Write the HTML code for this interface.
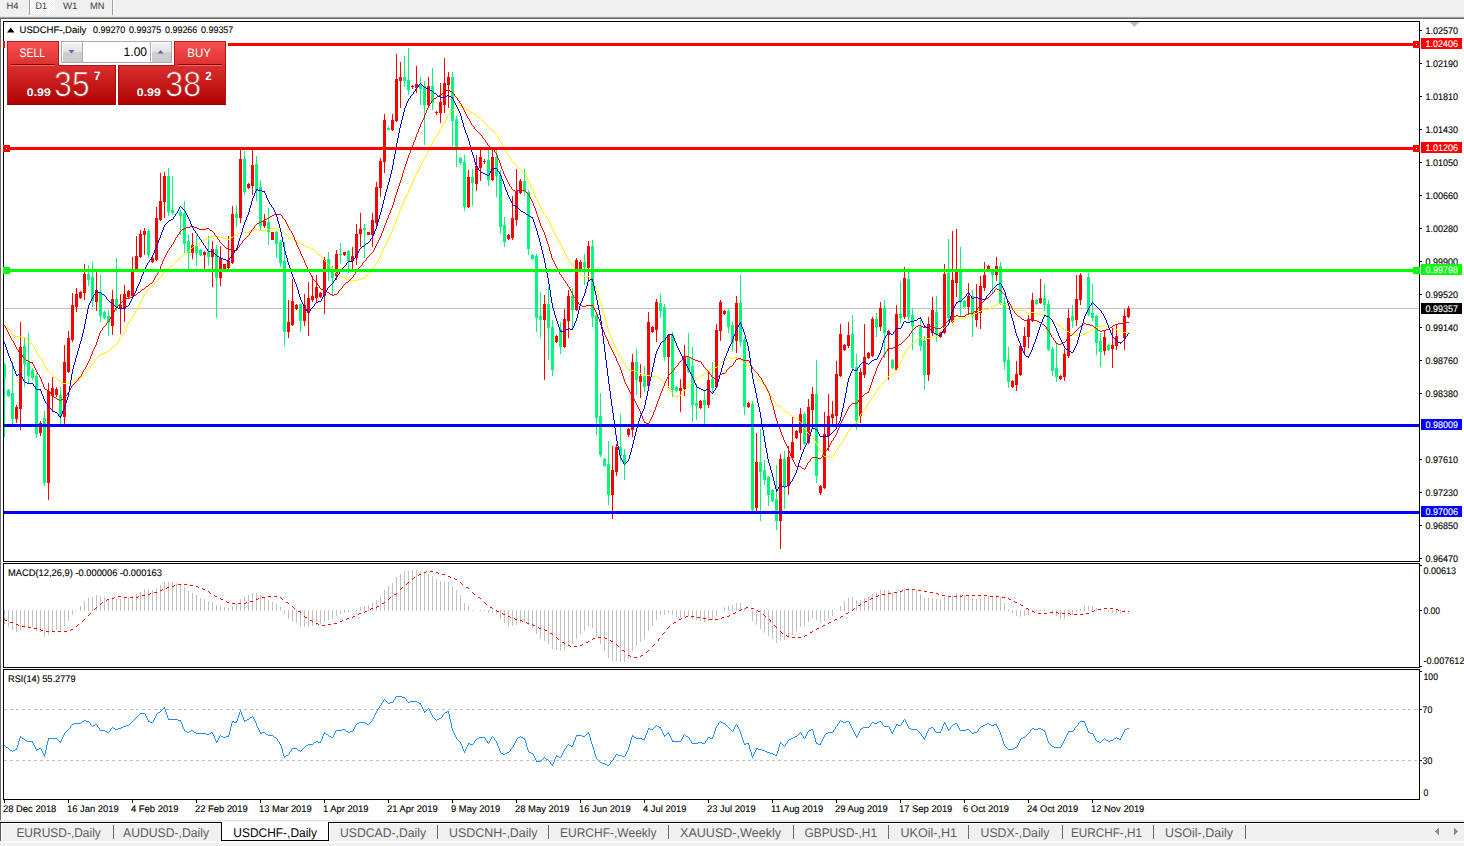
<!DOCTYPE html>
<html><head><meta charset="utf-8"><title>USDCHF-,Daily</title>
<style>html,body{margin:0;padding:0;background:#fff;width:1464px;height:846px;overflow:hidden}svg{display:block}</style>
</head><body>
<svg width="1464" height="846" viewBox="0 0 1464 846" font-family="'Liberation Sans', sans-serif" text-rendering="geometricPrecision"><rect x="0" y="0" width="1464" height="846" fill="#ffffff"/>
<rect x="0" y="0" width="1464" height="17" fill="#f0f0f0"/>
<rect x="0" y="16" width="1464" height="1" fill="#e6e6e6"/>
<rect x="0" y="17" width="1464" height="1" fill="#a0a0a0"/>
<rect x="0" y="18" width="1464" height="1" fill="#696969"/>
<rect x="0" y="19" width="1" height="801" fill="#6a6a6a"/>
<defs><pattern id="dith" width="2" height="2" patternUnits="userSpaceOnUse"><rect width="2" height="2" fill="#f0f0f0"/><rect width="1" height="1" fill="#fff"/><rect x="1" y="1" width="1" height="1" fill="#fff"/></pattern><linearGradient id="rg" x1="0" y1="0" x2="0" y2="1"><stop offset="0" stop-color="#fa5252"/><stop offset="0.45" stop-color="#d62828"/><stop offset="1" stop-color="#ae0000"/></linearGradient><linearGradient id="bg" x1="0" y1="0" x2="0" y2="1"><stop offset="0" stop-color="#f4f4f4"/><stop offset="0.5" stop-color="#e2e2e2"/><stop offset="0.5" stop-color="#d0d0d0"/><stop offset="1" stop-color="#cacaca"/></linearGradient><clipPath id="cm"><rect x="4" y="22" width="1415" height="539"/></clipPath><clipPath id="c2"><rect x="4" y="564" width="1415" height="103"/></clipPath><clipPath id="c3"><rect x="4" y="670" width="1415" height="129"/></clipPath><linearGradient id="rgu" gradientUnits="userSpaceOnUse" x1="0" y1="65" x2="0" y2="105"><stop offset="0" stop-color="#dc3030"/><stop offset="1" stop-color="#ae0000"/></linearGradient><linearGradient id="rg2" x1="0" y1="0" x2="0" y2="1"><stop offset="0" stop-color="#dc3030"/><stop offset="1" stop-color="#ae0000"/></linearGradient><linearGradient id="rg1" x1="0" y1="0" x2="0" y2="1"><stop offset="0" stop-color="#fa5252"/><stop offset="1" stop-color="#dc3030"/></linearGradient></defs>
<rect x="30" y="0" width="25" height="14" fill="url(#dith)"/>
<rect x="29" y="0" width="1" height="15" fill="#a0a0a0"/>
<rect x="112" y="0" width="1" height="15" fill="#a0a0a0"/>
<rect x="113" y="0" width="1" height="15" fill="#ffffff"/>
<text x="6.5" y="9" font-size="9.6" fill="#3c3c3c" textLength="12.00" lengthAdjust="spacingAndGlyphs" stroke="none" xml:space="preserve">H4</text>
<text x="35.5" y="9" font-size="9.6" fill="#3c3c3c" textLength="11.50" lengthAdjust="spacingAndGlyphs" stroke="none" xml:space="preserve">D1</text>
<text x="63" y="9" font-size="9.6" fill="#3c3c3c" textLength="14.50" lengthAdjust="spacingAndGlyphs" stroke="none" xml:space="preserve">W1</text>
<text x="90" y="9" font-size="9.6" fill="#3c3c3c" textLength="14.50" lengthAdjust="spacingAndGlyphs" stroke="none" xml:space="preserve">MN</text>
<rect x="1130" y="22" width="9" height="1" fill="#c0c0c0"/>
<rect x="1131" y="23" width="7" height="1" fill="#c0c0c0"/>
<rect x="1132" y="24" width="5" height="1" fill="#c0c0c0"/>
<rect x="1133" y="25" width="3" height="1" fill="#c0c0c0"/>
<rect x="1134" y="26" width="1" height="1" fill="#c0c0c0"/>
<rect x="3" y="21" width="1417" height="1" fill="#000"/>
<rect x="3" y="561" width="1417" height="1" fill="#000"/>
<rect x="3" y="21" width="1" height="541" fill="#000"/>
<rect x="1419" y="21" width="1" height="541" fill="#000"/>
<rect x="3" y="563" width="1417" height="1" fill="#000"/>
<rect x="3" y="667" width="1417" height="1" fill="#000"/>
<rect x="3" y="563" width="1" height="105" fill="#000"/>
<rect x="1419" y="563" width="1" height="105" fill="#000"/>
<rect x="3" y="669" width="1417" height="1" fill="#000"/>
<rect x="3" y="799" width="1417" height="1" fill="#000"/>
<rect x="3" y="669" width="1" height="131" fill="#000"/>
<rect x="1419" y="669" width="1" height="131" fill="#000"/>
<g clip-path="url(#cm)" shape-rendering="crispEdges">
<rect x="4" y="308" width="1415" height="1" fill="#c0c0c0"/>
<rect x="4" y="363" width="1" height="74" fill="#00f87c"/>
<rect x="3" y="364" width="3" height="14" fill="#00f87c"/>
<rect x="8" y="389" width="1" height="8" fill="#00f87c"/>
<rect x="7" y="390" width="3" height="6" fill="#00f87c"/>
<rect x="12" y="362" width="1" height="62" fill="#00f87c"/>
<rect x="11" y="393" width="3" height="26" fill="#00f87c"/>
<rect x="16" y="405" width="1" height="18" fill="#ff0000"/>
<rect x="15" y="407" width="3" height="12" fill="#ff0000"/>
<rect x="20" y="322" width="1" height="108" fill="#ff0000"/>
<rect x="19" y="347" width="3" height="62" fill="#ff0000"/>
<rect x="24" y="337" width="1" height="50" fill="#00f87c"/>
<rect x="23" y="346" width="3" height="18" fill="#00f87c"/>
<rect x="28" y="333" width="1" height="50" fill="#00f87c"/>
<rect x="27" y="362" width="3" height="14" fill="#00f87c"/>
<rect x="32" y="368" width="1" height="12" fill="#00f87c"/>
<rect x="31" y="370" width="3" height="8" fill="#00f87c"/>
<rect x="36" y="373" width="1" height="65" fill="#00f87c"/>
<rect x="35" y="376" width="3" height="58" fill="#00f87c"/>
<rect x="40" y="421" width="1" height="15" fill="#ff0000"/>
<rect x="39" y="423" width="3" height="10" fill="#ff0000"/>
<rect x="44" y="411" width="1" height="75" fill="#00f87c"/>
<rect x="43" y="418" width="3" height="65" fill="#00f87c"/>
<rect x="48" y="383" width="1" height="117" fill="#ff0000"/>
<rect x="47" y="391" width="3" height="92" fill="#ff0000"/>
<rect x="52" y="377" width="1" height="35" fill="#ff0000"/>
<rect x="51" y="388" width="3" height="8" fill="#ff0000"/>
<rect x="56" y="387" width="1" height="10" fill="#ff0000"/>
<rect x="55" y="389" width="3" height="6" fill="#ff0000"/>
<rect x="60" y="387" width="1" height="37" fill="#00f87c"/>
<rect x="59" y="395" width="3" height="22" fill="#00f87c"/>
<rect x="64" y="345" width="1" height="79" fill="#ff0000"/>
<rect x="63" y="362" width="3" height="55" fill="#ff0000"/>
<rect x="68" y="331" width="1" height="42" fill="#ff0000"/>
<rect x="67" y="338" width="3" height="34" fill="#ff0000"/>
<rect x="72" y="293" width="1" height="49" fill="#ff0000"/>
<rect x="71" y="305" width="3" height="35" fill="#ff0000"/>
<rect x="76" y="288" width="1" height="24" fill="#ff0000"/>
<rect x="75" y="294" width="3" height="13" fill="#ff0000"/>
<rect x="80" y="291" width="1" height="8" fill="#ff0000"/>
<rect x="79" y="292" width="3" height="6" fill="#ff0000"/>
<rect x="84" y="264" width="1" height="36" fill="#ff0000"/>
<rect x="83" y="274" width="3" height="19" fill="#ff0000"/>
<rect x="88" y="265" width="1" height="21" fill="#00f87c"/>
<rect x="87" y="274" width="3" height="6" fill="#00f87c"/>
<rect x="92" y="262" width="1" height="45" fill="#00f87c"/>
<rect x="91" y="277" width="3" height="24" fill="#00f87c"/>
<rect x="96" y="272" width="1" height="39" fill="#ff0000"/>
<rect x="95" y="290" width="3" height="12" fill="#ff0000"/>
<rect x="100" y="275" width="1" height="47" fill="#00f87c"/>
<rect x="99" y="292" width="3" height="24" fill="#00f87c"/>
<rect x="104" y="311" width="1" height="8" fill="#00f87c"/>
<rect x="103" y="312" width="3" height="6" fill="#00f87c"/>
<rect x="108" y="310" width="1" height="26" fill="#00f87c"/>
<rect x="107" y="316" width="3" height="7" fill="#00f87c"/>
<rect x="112" y="290" width="1" height="45" fill="#ff0000"/>
<rect x="111" y="299" width="3" height="27" fill="#ff0000"/>
<rect x="116" y="258" width="1" height="53" fill="#00f87c"/>
<rect x="115" y="299" width="3" height="8" fill="#00f87c"/>
<rect x="120" y="294" width="1" height="40" fill="#ff0000"/>
<rect x="119" y="305" width="3" height="4" fill="#ff0000"/>
<rect x="124" y="285" width="1" height="37" fill="#ff0000"/>
<rect x="123" y="294" width="3" height="15" fill="#ff0000"/>
<rect x="128" y="290" width="1" height="8" fill="#ff0000"/>
<rect x="127" y="291" width="3" height="6" fill="#ff0000"/>
<rect x="132" y="257" width="1" height="41" fill="#ff0000"/>
<rect x="131" y="271" width="3" height="25" fill="#ff0000"/>
<rect x="136" y="236" width="1" height="35" fill="#ff0000"/>
<rect x="135" y="256" width="3" height="14" fill="#ff0000"/>
<rect x="140" y="230" width="1" height="28" fill="#ff0000"/>
<rect x="139" y="234" width="3" height="23" fill="#ff0000"/>
<rect x="144" y="228" width="1" height="27" fill="#ff0000"/>
<rect x="143" y="231" width="3" height="4" fill="#ff0000"/>
<rect x="148" y="229" width="1" height="29" fill="#00f87c"/>
<rect x="147" y="231" width="3" height="24" fill="#00f87c"/>
<rect x="152" y="257" width="1" height="6" fill="#ff0000"/>
<rect x="151" y="258" width="3" height="4" fill="#ff0000"/>
<rect x="156" y="207" width="1" height="54" fill="#ff0000"/>
<rect x="155" y="218" width="3" height="42" fill="#ff0000"/>
<rect x="160" y="173" width="1" height="48" fill="#ff0000"/>
<rect x="159" y="201" width="3" height="19" fill="#ff0000"/>
<rect x="164" y="172" width="1" height="46" fill="#ff0000"/>
<rect x="163" y="176" width="3" height="26" fill="#ff0000"/>
<rect x="168" y="168" width="1" height="48" fill="#00f87c"/>
<rect x="167" y="176" width="3" height="36" fill="#00f87c"/>
<rect x="172" y="176" width="1" height="39" fill="#00f87c"/>
<rect x="171" y="210" width="3" height="3" fill="#00f87c"/>
<rect x="180" y="210" width="1" height="25" fill="#00f87c"/>
<rect x="179" y="212" width="3" height="4" fill="#00f87c"/>
<rect x="184" y="201" width="1" height="52" fill="#00f87c"/>
<rect x="183" y="213" width="3" height="31" fill="#00f87c"/>
<rect x="188" y="235" width="1" height="35" fill="#00f87c"/>
<rect x="187" y="241" width="3" height="12" fill="#00f87c"/>
<rect x="192" y="233" width="1" height="26" fill="#ff0000"/>
<rect x="191" y="245" width="3" height="8" fill="#ff0000"/>
<rect x="196" y="235" width="1" height="31" fill="#00f87c"/>
<rect x="195" y="246" width="3" height="7" fill="#00f87c"/>
<rect x="200" y="249" width="1" height="7" fill="#00f87c"/>
<rect x="199" y="250" width="3" height="5" fill="#00f87c"/>
<rect x="204" y="251" width="1" height="19" fill="#ff0000"/>
<rect x="203" y="252" width="3" height="3" fill="#ff0000"/>
<rect x="208" y="236" width="1" height="30" fill="#00f87c"/>
<rect x="207" y="252" width="3" height="5" fill="#00f87c"/>
<rect x="212" y="241" width="1" height="46" fill="#ff0000"/>
<rect x="211" y="249" width="3" height="8" fill="#ff0000"/>
<rect x="216" y="245" width="1" height="73" fill="#00f87c"/>
<rect x="215" y="249" width="3" height="29" fill="#00f87c"/>
<rect x="220" y="246" width="1" height="40" fill="#ff0000"/>
<rect x="219" y="258" width="3" height="20" fill="#ff0000"/>
<rect x="224" y="264" width="1" height="5" fill="#ff0000"/>
<rect x="223" y="264" width="3" height="5" fill="#ff0000"/>
<rect x="228" y="236" width="1" height="33" fill="#ff0000"/>
<rect x="227" y="261" width="3" height="7" fill="#ff0000"/>
<rect x="232" y="206" width="1" height="58" fill="#ff0000"/>
<rect x="231" y="214" width="3" height="49" fill="#ff0000"/>
<rect x="236" y="205" width="1" height="22" fill="#00f87c"/>
<rect x="235" y="214" width="3" height="4" fill="#00f87c"/>
<rect x="240" y="148" width="1" height="75" fill="#ff0000"/>
<rect x="239" y="159" width="3" height="59" fill="#ff0000"/>
<rect x="244" y="151" width="1" height="44" fill="#00f87c"/>
<rect x="243" y="159" width="3" height="33" fill="#00f87c"/>
<rect x="248" y="183" width="1" height="6" fill="#ff0000"/>
<rect x="247" y="184" width="3" height="4" fill="#ff0000"/>
<rect x="252" y="149" width="1" height="46" fill="#ff0000"/>
<rect x="251" y="165" width="3" height="21" fill="#ff0000"/>
<rect x="256" y="156" width="1" height="45" fill="#00f87c"/>
<rect x="255" y="164" width="3" height="27" fill="#00f87c"/>
<rect x="260" y="180" width="1" height="51" fill="#00f87c"/>
<rect x="259" y="187" width="3" height="39" fill="#00f87c"/>
<rect x="264" y="214" width="1" height="14" fill="#ff0000"/>
<rect x="263" y="221" width="3" height="5" fill="#ff0000"/>
<rect x="268" y="208" width="1" height="37" fill="#00f87c"/>
<rect x="267" y="222" width="3" height="10" fill="#00f87c"/>
<rect x="272" y="232" width="1" height="8" fill="#ff0000"/>
<rect x="271" y="232" width="3" height="8" fill="#ff0000"/>
<rect x="276" y="231" width="1" height="27" fill="#00f87c"/>
<rect x="275" y="232" width="3" height="12" fill="#00f87c"/>
<rect x="280" y="240" width="1" height="27" fill="#00f87c"/>
<rect x="279" y="242" width="3" height="21" fill="#00f87c"/>
<rect x="284" y="242" width="1" height="104" fill="#00f87c"/>
<rect x="283" y="261" width="3" height="71" fill="#00f87c"/>
<rect x="288" y="300" width="1" height="38" fill="#ff0000"/>
<rect x="287" y="322" width="3" height="10" fill="#ff0000"/>
<rect x="292" y="279" width="1" height="47" fill="#ff0000"/>
<rect x="291" y="301" width="3" height="24" fill="#ff0000"/>
<rect x="296" y="304" width="1" height="6" fill="#ff0000"/>
<rect x="295" y="305" width="3" height="4" fill="#ff0000"/>
<rect x="300" y="303" width="1" height="29" fill="#00f87c"/>
<rect x="299" y="304" width="3" height="17" fill="#00f87c"/>
<rect x="304" y="294" width="1" height="32" fill="#ff0000"/>
<rect x="303" y="305" width="3" height="16" fill="#ff0000"/>
<rect x="308" y="282" width="1" height="54" fill="#ff0000"/>
<rect x="307" y="298" width="3" height="15" fill="#ff0000"/>
<rect x="312" y="276" width="1" height="26" fill="#ff0000"/>
<rect x="311" y="296" width="3" height="4" fill="#ff0000"/>
<rect x="316" y="275" width="1" height="27" fill="#ff0000"/>
<rect x="315" y="287" width="3" height="11" fill="#ff0000"/>
<rect x="320" y="292" width="1" height="6" fill="#ff0000"/>
<rect x="319" y="293" width="3" height="4" fill="#ff0000"/>
<rect x="324" y="257" width="1" height="57" fill="#ff0000"/>
<rect x="323" y="260" width="3" height="36" fill="#ff0000"/>
<rect x="328" y="252" width="1" height="29" fill="#00f87c"/>
<rect x="327" y="259" width="3" height="13" fill="#00f87c"/>
<rect x="332" y="266" width="1" height="29" fill="#00f87c"/>
<rect x="331" y="271" width="3" height="7" fill="#00f87c"/>
<rect x="336" y="250" width="1" height="30" fill="#ff0000"/>
<rect x="335" y="254" width="3" height="22" fill="#ff0000"/>
<rect x="340" y="243" width="1" height="20" fill="#00f87c"/>
<rect x="339" y="254" width="3" height="1" fill="#00f87c"/>
<rect x="344" y="252" width="1" height="4" fill="#ff0000"/>
<rect x="343" y="252" width="3" height="3" fill="#ff0000"/>
<rect x="348" y="250" width="1" height="23" fill="#00f87c"/>
<rect x="347" y="251" width="3" height="10" fill="#00f87c"/>
<rect x="352" y="247" width="1" height="22" fill="#ff0000"/>
<rect x="351" y="256" width="3" height="5" fill="#ff0000"/>
<rect x="356" y="224" width="1" height="41" fill="#ff0000"/>
<rect x="355" y="234" width="3" height="24" fill="#ff0000"/>
<rect x="360" y="213" width="1" height="34" fill="#ff0000"/>
<rect x="359" y="229" width="3" height="5" fill="#ff0000"/>
<rect x="364" y="224" width="1" height="34" fill="#00f87c"/>
<rect x="363" y="228" width="3" height="2" fill="#00f87c"/>
<rect x="368" y="232" width="1" height="3" fill="#ff0000"/>
<rect x="367" y="232" width="3" height="3" fill="#ff0000"/>
<rect x="372" y="213" width="1" height="34" fill="#ff0000"/>
<rect x="371" y="220" width="3" height="15" fill="#ff0000"/>
<rect x="376" y="182" width="1" height="44" fill="#ff0000"/>
<rect x="375" y="187" width="3" height="36" fill="#ff0000"/>
<rect x="380" y="158" width="1" height="39" fill="#ff0000"/>
<rect x="379" y="161" width="3" height="27" fill="#ff0000"/>
<rect x="384" y="114" width="1" height="59" fill="#ff0000"/>
<rect x="383" y="120" width="3" height="42" fill="#ff0000"/>
<rect x="388" y="126" width="1" height="4" fill="#00f87c"/>
<rect x="387" y="128" width="3" height="2" fill="#00f87c"/>
<rect x="392" y="114" width="1" height="17" fill="#ff0000"/>
<rect x="391" y="120" width="3" height="10" fill="#ff0000"/>
<rect x="396" y="54" width="1" height="68" fill="#ff0000"/>
<rect x="395" y="79" width="3" height="42" fill="#ff0000"/>
<rect x="400" y="62" width="1" height="46" fill="#ff0000"/>
<rect x="399" y="77" width="3" height="4" fill="#ff0000"/>
<rect x="404" y="56" width="1" height="31" fill="#00f87c"/>
<rect x="403" y="77" width="3" height="4" fill="#00f87c"/>
<rect x="408" y="48" width="1" height="47" fill="#00f87c"/>
<rect x="407" y="80" width="3" height="10" fill="#00f87c"/>
<rect x="412" y="85" width="1" height="4" fill="#ff0000"/>
<rect x="411" y="86" width="3" height="1" fill="#ff0000"/>
<rect x="416" y="66" width="1" height="27" fill="#ff0000"/>
<rect x="415" y="84" width="3" height="4" fill="#ff0000"/>
<rect x="420" y="77" width="1" height="28" fill="#00f87c"/>
<rect x="419" y="84" width="3" height="5" fill="#00f87c"/>
<rect x="424" y="81" width="1" height="64" fill="#00f87c"/>
<rect x="423" y="86" width="3" height="19" fill="#00f87c"/>
<rect x="428" y="77" width="1" height="29" fill="#ff0000"/>
<rect x="427" y="86" width="3" height="19" fill="#ff0000"/>
<rect x="432" y="68" width="1" height="42" fill="#00f87c"/>
<rect x="431" y="86" width="3" height="17" fill="#00f87c"/>
<rect x="436" y="111" width="1" height="4" fill="#ff0000"/>
<rect x="435" y="112" width="3" height="1" fill="#ff0000"/>
<rect x="440" y="83" width="1" height="40" fill="#ff0000"/>
<rect x="439" y="102" width="3" height="11" fill="#ff0000"/>
<rect x="444" y="58" width="1" height="55" fill="#ff0000"/>
<rect x="443" y="83" width="3" height="22" fill="#ff0000"/>
<rect x="448" y="72" width="1" height="36" fill="#ff0000"/>
<rect x="447" y="77" width="3" height="8" fill="#ff0000"/>
<rect x="452" y="72" width="1" height="75" fill="#00f87c"/>
<rect x="451" y="77" width="3" height="44" fill="#00f87c"/>
<rect x="456" y="116" width="1" height="51" fill="#00f87c"/>
<rect x="455" y="119" width="3" height="28" fill="#00f87c"/>
<rect x="460" y="157" width="1" height="8" fill="#00f87c"/>
<rect x="459" y="158" width="3" height="5" fill="#00f87c"/>
<rect x="464" y="155" width="1" height="56" fill="#00f87c"/>
<rect x="463" y="162" width="3" height="45" fill="#00f87c"/>
<rect x="468" y="170" width="1" height="38" fill="#ff0000"/>
<rect x="467" y="177" width="3" height="30" fill="#ff0000"/>
<rect x="472" y="169" width="1" height="37" fill="#00f87c"/>
<rect x="471" y="177" width="3" height="6" fill="#00f87c"/>
<rect x="476" y="155" width="1" height="36" fill="#ff0000"/>
<rect x="475" y="166" width="3" height="18" fill="#ff0000"/>
<rect x="480" y="149" width="1" height="32" fill="#ff0000"/>
<rect x="479" y="157" width="3" height="11" fill="#ff0000"/>
<rect x="484" y="159" width="1" height="5" fill="#ff0000"/>
<rect x="483" y="161" width="3" height="1" fill="#ff0000"/>
<rect x="488" y="147" width="1" height="39" fill="#00f87c"/>
<rect x="487" y="160" width="3" height="20" fill="#00f87c"/>
<rect x="492" y="147" width="1" height="34" fill="#ff0000"/>
<rect x="491" y="157" width="3" height="23" fill="#ff0000"/>
<rect x="496" y="150" width="1" height="47" fill="#00f87c"/>
<rect x="495" y="157" width="3" height="19" fill="#00f87c"/>
<rect x="500" y="170" width="1" height="64" fill="#00f87c"/>
<rect x="499" y="175" width="3" height="52" fill="#00f87c"/>
<rect x="504" y="217" width="1" height="30" fill="#00f87c"/>
<rect x="503" y="225" width="3" height="17" fill="#00f87c"/>
<rect x="508" y="234" width="1" height="6" fill="#ff0000"/>
<rect x="507" y="235" width="3" height="4" fill="#ff0000"/>
<rect x="512" y="196" width="1" height="44" fill="#ff0000"/>
<rect x="511" y="218" width="3" height="20" fill="#ff0000"/>
<rect x="516" y="169" width="1" height="57" fill="#ff0000"/>
<rect x="515" y="191" width="3" height="29" fill="#ff0000"/>
<rect x="520" y="179" width="1" height="15" fill="#ff0000"/>
<rect x="519" y="181" width="3" height="12" fill="#ff0000"/>
<rect x="524" y="169" width="1" height="27" fill="#00f87c"/>
<rect x="523" y="181" width="3" height="10" fill="#00f87c"/>
<rect x="528" y="190" width="1" height="65" fill="#00f87c"/>
<rect x="527" y="192" width="3" height="57" fill="#00f87c"/>
<rect x="532" y="254" width="1" height="6" fill="#00f87c"/>
<rect x="531" y="255" width="3" height="4" fill="#00f87c"/>
<rect x="536" y="254" width="1" height="78" fill="#00f87c"/>
<rect x="535" y="256" width="3" height="62" fill="#00f87c"/>
<rect x="540" y="292" width="1" height="46" fill="#00f87c"/>
<rect x="539" y="316" width="3" height="4" fill="#00f87c"/>
<rect x="544" y="295" width="1" height="85" fill="#ff0000"/>
<rect x="543" y="304" width="3" height="16" fill="#ff0000"/>
<rect x="548" y="287" width="1" height="73" fill="#00f87c"/>
<rect x="547" y="304" width="3" height="24" fill="#00f87c"/>
<rect x="552" y="320" width="1" height="56" fill="#00f87c"/>
<rect x="551" y="327" width="3" height="43" fill="#00f87c"/>
<rect x="556" y="335" width="1" height="8" fill="#ff0000"/>
<rect x="555" y="336" width="3" height="6" fill="#ff0000"/>
<rect x="560" y="322" width="1" height="32" fill="#00f87c"/>
<rect x="559" y="329" width="3" height="18" fill="#00f87c"/>
<rect x="564" y="309" width="1" height="39" fill="#ff0000"/>
<rect x="563" y="319" width="3" height="28" fill="#ff0000"/>
<rect x="568" y="290" width="1" height="48" fill="#ff0000"/>
<rect x="567" y="296" width="3" height="25" fill="#ff0000"/>
<rect x="572" y="288" width="1" height="40" fill="#00f87c"/>
<rect x="571" y="296" width="3" height="14" fill="#00f87c"/>
<rect x="576" y="258" width="1" height="53" fill="#ff0000"/>
<rect x="575" y="260" width="3" height="50" fill="#ff0000"/>
<rect x="580" y="260" width="1" height="11" fill="#ff0000"/>
<rect x="579" y="262" width="3" height="8" fill="#ff0000"/>
<rect x="584" y="254" width="1" height="31" fill="#00f87c"/>
<rect x="583" y="262" width="3" height="5" fill="#00f87c"/>
<rect x="588" y="241" width="1" height="39" fill="#ff0000"/>
<rect x="587" y="246" width="3" height="22" fill="#ff0000"/>
<rect x="592" y="240" width="1" height="87" fill="#00f87c"/>
<rect x="591" y="246" width="3" height="71" fill="#00f87c"/>
<rect x="596" y="312" width="1" height="123" fill="#00f87c"/>
<rect x="595" y="315" width="3" height="103" fill="#00f87c"/>
<rect x="600" y="393" width="1" height="64" fill="#00f87c"/>
<rect x="599" y="416" width="3" height="39" fill="#00f87c"/>
<rect x="604" y="458" width="1" height="9" fill="#00f87c"/>
<rect x="603" y="459" width="3" height="7" fill="#00f87c"/>
<rect x="608" y="441" width="1" height="64" fill="#00f87c"/>
<rect x="607" y="464" width="3" height="31" fill="#00f87c"/>
<rect x="612" y="446" width="1" height="73" fill="#ff0000"/>
<rect x="611" y="470" width="3" height="25" fill="#ff0000"/>
<rect x="616" y="444" width="1" height="32" fill="#ff0000"/>
<rect x="615" y="447" width="3" height="25" fill="#ff0000"/>
<rect x="620" y="414" width="1" height="47" fill="#00f87c"/>
<rect x="619" y="447" width="3" height="9" fill="#00f87c"/>
<rect x="624" y="449" width="1" height="31" fill="#00f87c"/>
<rect x="623" y="455" width="3" height="8" fill="#00f87c"/>
<rect x="628" y="428" width="1" height="9" fill="#ff0000"/>
<rect x="627" y="429" width="3" height="6" fill="#ff0000"/>
<rect x="632" y="354" width="1" height="83" fill="#ff0000"/>
<rect x="631" y="362" width="3" height="68" fill="#ff0000"/>
<rect x="636" y="349" width="1" height="46" fill="#00f87c"/>
<rect x="635" y="362" width="3" height="18" fill="#00f87c"/>
<rect x="640" y="364" width="1" height="34" fill="#ff0000"/>
<rect x="639" y="376" width="3" height="6" fill="#ff0000"/>
<rect x="644" y="366" width="1" height="26" fill="#00f87c"/>
<rect x="643" y="375" width="3" height="12" fill="#00f87c"/>
<rect x="648" y="312" width="1" height="76" fill="#ff0000"/>
<rect x="647" y="322" width="3" height="64" fill="#ff0000"/>
<rect x="652" y="326" width="1" height="7" fill="#ff0000"/>
<rect x="651" y="327" width="3" height="5" fill="#ff0000"/>
<rect x="656" y="299" width="1" height="43" fill="#ff0000"/>
<rect x="655" y="302" width="3" height="28" fill="#ff0000"/>
<rect x="660" y="294" width="1" height="24" fill="#00f87c"/>
<rect x="659" y="303" width="3" height="8" fill="#00f87c"/>
<rect x="664" y="304" width="1" height="57" fill="#00f87c"/>
<rect x="663" y="307" width="3" height="50" fill="#00f87c"/>
<rect x="668" y="334" width="1" height="54" fill="#ff0000"/>
<rect x="667" y="335" width="3" height="22" fill="#ff0000"/>
<rect x="672" y="332" width="1" height="65" fill="#00f87c"/>
<rect x="671" y="335" width="3" height="55" fill="#00f87c"/>
<rect x="676" y="386" width="1" height="6" fill="#00f87c"/>
<rect x="675" y="387" width="3" height="4" fill="#00f87c"/>
<rect x="680" y="379" width="1" height="33" fill="#ff0000"/>
<rect x="679" y="388" width="3" height="3" fill="#ff0000"/>
<rect x="684" y="345" width="1" height="51" fill="#ff0000"/>
<rect x="683" y="356" width="3" height="33" fill="#ff0000"/>
<rect x="688" y="333" width="1" height="40" fill="#00f87c"/>
<rect x="687" y="357" width="3" height="15" fill="#00f87c"/>
<rect x="692" y="347" width="1" height="75" fill="#00f87c"/>
<rect x="691" y="366" width="3" height="39" fill="#00f87c"/>
<rect x="696" y="384" width="1" height="36" fill="#00f87c"/>
<rect x="695" y="403" width="3" height="3" fill="#00f87c"/>
<rect x="700" y="400" width="1" height="9" fill="#ff0000"/>
<rect x="699" y="401" width="3" height="7" fill="#ff0000"/>
<rect x="704" y="391" width="1" height="33" fill="#00f87c"/>
<rect x="703" y="400" width="3" height="5" fill="#00f87c"/>
<rect x="708" y="372" width="1" height="36" fill="#ff0000"/>
<rect x="707" y="380" width="3" height="25" fill="#ff0000"/>
<rect x="712" y="362" width="1" height="31" fill="#00f87c"/>
<rect x="711" y="379" width="3" height="9" fill="#00f87c"/>
<rect x="716" y="324" width="1" height="64" fill="#ff0000"/>
<rect x="715" y="330" width="3" height="57" fill="#ff0000"/>
<rect x="720" y="300" width="1" height="41" fill="#ff0000"/>
<rect x="719" y="302" width="3" height="29" fill="#ff0000"/>
<rect x="724" y="310" width="1" height="5" fill="#ff0000"/>
<rect x="723" y="311" width="3" height="3" fill="#ff0000"/>
<rect x="728" y="309" width="1" height="24" fill="#00f87c"/>
<rect x="727" y="311" width="3" height="16" fill="#00f87c"/>
<rect x="732" y="321" width="1" height="30" fill="#00f87c"/>
<rect x="731" y="325" width="3" height="18" fill="#00f87c"/>
<rect x="736" y="296" width="1" height="57" fill="#ff0000"/>
<rect x="735" y="303" width="3" height="38" fill="#ff0000"/>
<rect x="740" y="275" width="1" height="72" fill="#00f87c"/>
<rect x="739" y="303" width="3" height="39" fill="#00f87c"/>
<rect x="744" y="337" width="1" height="78" fill="#00f87c"/>
<rect x="743" y="340" width="3" height="67" fill="#00f87c"/>
<rect x="748" y="402" width="1" height="6" fill="#ff0000"/>
<rect x="747" y="403" width="3" height="4" fill="#ff0000"/>
<rect x="752" y="401" width="1" height="110" fill="#00f87c"/>
<rect x="751" y="404" width="3" height="106" fill="#00f87c"/>
<rect x="756" y="433" width="1" height="78" fill="#ff0000"/>
<rect x="755" y="462" width="3" height="46" fill="#ff0000"/>
<rect x="760" y="429" width="1" height="92" fill="#00f87c"/>
<rect x="759" y="462" width="3" height="10" fill="#00f87c"/>
<rect x="764" y="460" width="1" height="25" fill="#00f87c"/>
<rect x="763" y="470" width="3" height="10" fill="#00f87c"/>
<rect x="768" y="476" width="1" height="30" fill="#00f87c"/>
<rect x="767" y="477" width="3" height="18" fill="#00f87c"/>
<rect x="772" y="489" width="1" height="13" fill="#00f87c"/>
<rect x="771" y="490" width="3" height="11" fill="#00f87c"/>
<rect x="776" y="465" width="1" height="65" fill="#00f87c"/>
<rect x="775" y="499" width="3" height="22" fill="#00f87c"/>
<rect x="780" y="454" width="1" height="95" fill="#ff0000"/>
<rect x="779" y="459" width="3" height="62" fill="#ff0000"/>
<rect x="784" y="451" width="1" height="58" fill="#00f87c"/>
<rect x="783" y="459" width="3" height="27" fill="#00f87c"/>
<rect x="788" y="446" width="1" height="49" fill="#ff0000"/>
<rect x="787" y="457" width="3" height="29" fill="#ff0000"/>
<rect x="792" y="417" width="1" height="42" fill="#ff0000"/>
<rect x="791" y="442" width="3" height="16" fill="#ff0000"/>
<rect x="796" y="430" width="1" height="9" fill="#ff0000"/>
<rect x="795" y="431" width="3" height="7" fill="#ff0000"/>
<rect x="800" y="408" width="1" height="42" fill="#ff0000"/>
<rect x="799" y="414" width="3" height="19" fill="#ff0000"/>
<rect x="804" y="412" width="1" height="33" fill="#00f87c"/>
<rect x="803" y="414" width="3" height="30" fill="#00f87c"/>
<rect x="808" y="399" width="1" height="45" fill="#ff0000"/>
<rect x="807" y="407" width="3" height="36" fill="#ff0000"/>
<rect x="812" y="387" width="1" height="39" fill="#ff0000"/>
<rect x="811" y="394" width="3" height="16" fill="#ff0000"/>
<rect x="816" y="360" width="1" height="123" fill="#00f87c"/>
<rect x="815" y="394" width="3" height="82" fill="#00f87c"/>
<rect x="820" y="485" width="1" height="10" fill="#ff0000"/>
<rect x="819" y="486" width="3" height="7" fill="#ff0000"/>
<rect x="824" y="412" width="1" height="77" fill="#ff0000"/>
<rect x="823" y="434" width="3" height="54" fill="#ff0000"/>
<rect x="828" y="394" width="1" height="57" fill="#ff0000"/>
<rect x="827" y="416" width="3" height="20" fill="#ff0000"/>
<rect x="832" y="401" width="1" height="25" fill="#ff0000"/>
<rect x="831" y="414" width="3" height="4" fill="#ff0000"/>
<rect x="836" y="361" width="1" height="65" fill="#ff0000"/>
<rect x="835" y="374" width="3" height="42" fill="#ff0000"/>
<rect x="840" y="324" width="1" height="53" fill="#ff0000"/>
<rect x="839" y="334" width="3" height="42" fill="#ff0000"/>
<rect x="844" y="344" width="1" height="7" fill="#ff0000"/>
<rect x="843" y="345" width="3" height="5" fill="#ff0000"/>
<rect x="848" y="322" width="1" height="26" fill="#ff0000"/>
<rect x="847" y="335" width="3" height="11" fill="#ff0000"/>
<rect x="852" y="315" width="1" height="56" fill="#00f87c"/>
<rect x="851" y="334" width="3" height="34" fill="#00f87c"/>
<rect x="856" y="354" width="1" height="76" fill="#00f87c"/>
<rect x="855" y="367" width="3" height="54" fill="#00f87c"/>
<rect x="860" y="368" width="1" height="55" fill="#ff0000"/>
<rect x="859" y="372" width="3" height="44" fill="#ff0000"/>
<rect x="864" y="324" width="1" height="54" fill="#ff0000"/>
<rect x="863" y="357" width="3" height="18" fill="#ff0000"/>
<rect x="868" y="352" width="1" height="7" fill="#ff0000"/>
<rect x="867" y="353" width="3" height="5" fill="#ff0000"/>
<rect x="872" y="317" width="1" height="40" fill="#ff0000"/>
<rect x="871" y="319" width="3" height="37" fill="#ff0000"/>
<rect x="876" y="313" width="1" height="24" fill="#00f87c"/>
<rect x="875" y="319" width="3" height="8" fill="#00f87c"/>
<rect x="880" y="302" width="1" height="29" fill="#ff0000"/>
<rect x="879" y="308" width="3" height="19" fill="#ff0000"/>
<rect x="884" y="300" width="1" height="58" fill="#00f87c"/>
<rect x="883" y="308" width="3" height="25" fill="#00f87c"/>
<rect x="888" y="330" width="1" height="50" fill="#ff0000"/>
<rect x="887" y="331" width="3" height="4" fill="#ff0000"/>
<rect x="892" y="359" width="1" height="10" fill="#00f87c"/>
<rect x="891" y="360" width="3" height="8" fill="#00f87c"/>
<rect x="896" y="305" width="1" height="66" fill="#ff0000"/>
<rect x="895" y="314" width="3" height="56" fill="#ff0000"/>
<rect x="900" y="281" width="1" height="42" fill="#00f87c"/>
<rect x="899" y="314" width="3" height="4" fill="#00f87c"/>
<rect x="904" y="267" width="1" height="52" fill="#ff0000"/>
<rect x="903" y="278" width="3" height="39" fill="#ff0000"/>
<rect x="908" y="268" width="1" height="53" fill="#00f87c"/>
<rect x="907" y="279" width="3" height="38" fill="#00f87c"/>
<rect x="912" y="309" width="1" height="41" fill="#00f87c"/>
<rect x="911" y="315" width="3" height="11" fill="#00f87c"/>
<rect x="920" y="320" width="1" height="31" fill="#00f87c"/>
<rect x="919" y="327" width="3" height="19" fill="#00f87c"/>
<rect x="924" y="336" width="1" height="54" fill="#00f87c"/>
<rect x="923" y="341" width="3" height="34" fill="#00f87c"/>
<rect x="928" y="317" width="1" height="64" fill="#ff0000"/>
<rect x="927" y="324" width="3" height="51" fill="#ff0000"/>
<rect x="932" y="297" width="1" height="39" fill="#ff0000"/>
<rect x="931" y="310" width="3" height="23" fill="#ff0000"/>
<rect x="936" y="296" width="1" height="46" fill="#00f87c"/>
<rect x="935" y="312" width="3" height="23" fill="#00f87c"/>
<rect x="940" y="331" width="1" height="7" fill="#ff0000"/>
<rect x="939" y="332" width="3" height="5" fill="#ff0000"/>
<rect x="944" y="264" width="1" height="70" fill="#ff0000"/>
<rect x="943" y="274" width="3" height="59" fill="#ff0000"/>
<rect x="948" y="239" width="1" height="83" fill="#00f87c"/>
<rect x="947" y="273" width="3" height="45" fill="#00f87c"/>
<rect x="952" y="231" width="1" height="92" fill="#ff0000"/>
<rect x="951" y="280" width="3" height="42" fill="#ff0000"/>
<rect x="956" y="229" width="1" height="68" fill="#ff0000"/>
<rect x="955" y="270" width="3" height="13" fill="#ff0000"/>
<rect x="960" y="247" width="1" height="69" fill="#00f87c"/>
<rect x="959" y="271" width="3" height="31" fill="#00f87c"/>
<rect x="964" y="300" width="1" height="8" fill="#00f87c"/>
<rect x="963" y="301" width="3" height="6" fill="#00f87c"/>
<rect x="968" y="283" width="1" height="32" fill="#ff0000"/>
<rect x="967" y="296" width="3" height="11" fill="#ff0000"/>
<rect x="972" y="290" width="1" height="47" fill="#00f87c"/>
<rect x="971" y="296" width="3" height="20" fill="#00f87c"/>
<rect x="976" y="284" width="1" height="43" fill="#ff0000"/>
<rect x="975" y="311" width="3" height="9" fill="#ff0000"/>
<rect x="980" y="276" width="1" height="53" fill="#ff0000"/>
<rect x="979" y="286" width="3" height="27" fill="#ff0000"/>
<rect x="984" y="262" width="1" height="29" fill="#ff0000"/>
<rect x="983" y="275" width="3" height="13" fill="#ff0000"/>
<rect x="988" y="265" width="1" height="6" fill="#ff0000"/>
<rect x="987" y="266" width="3" height="4" fill="#ff0000"/>
<rect x="992" y="269" width="1" height="24" fill="#00f87c"/>
<rect x="991" y="271" width="3" height="4" fill="#00f87c"/>
<rect x="996" y="257" width="1" height="24" fill="#ff0000"/>
<rect x="995" y="266" width="3" height="9" fill="#ff0000"/>
<rect x="1000" y="262" width="1" height="43" fill="#00f87c"/>
<rect x="999" y="266" width="3" height="37" fill="#00f87c"/>
<rect x="1004" y="297" width="1" height="73" fill="#00f87c"/>
<rect x="1003" y="303" width="3" height="59" fill="#00f87c"/>
<rect x="1008" y="347" width="1" height="41" fill="#00f87c"/>
<rect x="1007" y="360" width="3" height="22" fill="#00f87c"/>
<rect x="1012" y="380" width="1" height="8" fill="#ff0000"/>
<rect x="1011" y="381" width="3" height="6" fill="#ff0000"/>
<rect x="1016" y="361" width="1" height="30" fill="#ff0000"/>
<rect x="1015" y="374" width="3" height="11" fill="#ff0000"/>
<rect x="1020" y="344" width="1" height="32" fill="#ff0000"/>
<rect x="1019" y="346" width="3" height="29" fill="#ff0000"/>
<rect x="1024" y="327" width="1" height="26" fill="#ff0000"/>
<rect x="1023" y="336" width="3" height="11" fill="#ff0000"/>
<rect x="1028" y="315" width="1" height="33" fill="#ff0000"/>
<rect x="1027" y="319" width="3" height="18" fill="#ff0000"/>
<rect x="1032" y="293" width="1" height="29" fill="#ff0000"/>
<rect x="1031" y="300" width="3" height="21" fill="#ff0000"/>
<rect x="1036" y="299" width="1" height="6" fill="#00f87c"/>
<rect x="1035" y="300" width="3" height="4" fill="#00f87c"/>
<rect x="1040" y="279" width="1" height="25" fill="#ff0000"/>
<rect x="1039" y="298" width="3" height="5" fill="#ff0000"/>
<rect x="1044" y="284" width="1" height="27" fill="#00f87c"/>
<rect x="1043" y="298" width="3" height="7" fill="#00f87c"/>
<rect x="1048" y="300" width="1" height="51" fill="#00f87c"/>
<rect x="1047" y="304" width="3" height="46" fill="#00f87c"/>
<rect x="1052" y="347" width="1" height="29" fill="#00f87c"/>
<rect x="1051" y="349" width="3" height="22" fill="#00f87c"/>
<rect x="1056" y="342" width="1" height="40" fill="#00f87c"/>
<rect x="1055" y="368" width="3" height="9" fill="#00f87c"/>
<rect x="1060" y="375" width="1" height="5" fill="#ff0000"/>
<rect x="1059" y="376" width="3" height="3" fill="#ff0000"/>
<rect x="1064" y="349" width="1" height="32" fill="#ff0000"/>
<rect x="1063" y="354" width="3" height="23" fill="#ff0000"/>
<rect x="1068" y="309" width="1" height="49" fill="#ff0000"/>
<rect x="1067" y="318" width="3" height="38" fill="#ff0000"/>
<rect x="1072" y="305" width="1" height="23" fill="#00f87c"/>
<rect x="1071" y="316" width="3" height="5" fill="#00f87c"/>
<rect x="1076" y="275" width="1" height="51" fill="#ff0000"/>
<rect x="1075" y="299" width="3" height="21" fill="#ff0000"/>
<rect x="1080" y="273" width="1" height="32" fill="#ff0000"/>
<rect x="1079" y="275" width="3" height="25" fill="#ff0000"/>
<rect x="1088" y="273" width="1" height="43" fill="#00f87c"/>
<rect x="1087" y="277" width="3" height="37" fill="#00f87c"/>
<rect x="1092" y="284" width="1" height="37" fill="#00f87c"/>
<rect x="1091" y="313" width="3" height="5" fill="#00f87c"/>
<rect x="1096" y="315" width="1" height="40" fill="#00f87c"/>
<rect x="1095" y="316" width="3" height="27" fill="#00f87c"/>
<rect x="1100" y="333" width="1" height="34" fill="#00f87c"/>
<rect x="1099" y="341" width="3" height="11" fill="#00f87c"/>
<rect x="1104" y="331" width="1" height="24" fill="#ff0000"/>
<rect x="1103" y="337" width="3" height="14" fill="#ff0000"/>
<rect x="1108" y="344" width="1" height="7" fill="#00f87c"/>
<rect x="1107" y="345" width="3" height="5" fill="#00f87c"/>
<rect x="1112" y="327" width="1" height="41" fill="#ff0000"/>
<rect x="1111" y="345" width="3" height="4" fill="#ff0000"/>
<rect x="1116" y="324" width="1" height="26" fill="#ff0000"/>
<rect x="1115" y="336" width="3" height="10" fill="#ff0000"/>
<rect x="1120" y="342" width="1" height="1" fill="#ff0000"/>
<rect x="1119" y="342" width="3" height="1" fill="#ff0000"/>
<rect x="1124" y="309" width="1" height="41" fill="#ff0000"/>
<rect x="1123" y="316" width="3" height="22" fill="#ff0000"/>
<rect x="1128" y="306" width="1" height="12" fill="#ff0000"/>
<rect x="1127" y="308" width="3" height="9" fill="#ff0000"/>
<path d="M4.5 325v1M5.5 326v1M6.5 327v1M7.5 327v1M8.5 328v1M9.5 329v2M10.5 331v1M11.5 332v2M12.5 334v1M13.5 335v1M14.5 335v1M15.5 336v1M16.5 336v1M17.5 336v1M18.5 336v1M19.5 336v1M20.5 336v1M21.5 336v1M22.5 337v1M23.5 337v1M24.5 337v1M25.5 338v1M26.5 339v1M27.5 340v1M28.5 341v1M29.5 342v1M30.5 343v1M31.5 343v1M32.5 344v1M33.5 345v2M34.5 347v2M35.5 349v2M36.5 351v2M37.5 353v1M38.5 354v2M39.5 356v1M40.5 357v1M41.5 358v2M42.5 360v2M43.5 362v2M44.5 364v2M45.5 366v2M46.5 368v1M47.5 369v2M48.5 371v1M49.5 372v1M50.5 373v1M51.5 374v1M52.5 375v1M53.5 376v1M54.5 377v1M55.5 377v1M56.5 378v1M57.5 379v1M58.5 380v1M59.5 380v1M60.5 381v1M61.5 382v1M62.5 382v1M63.5 383v1M64.5 383v1M65.5 383v1M66.5 383v1M67.5 383v1M68.5 383v1M69.5 383v1M70.5 382v1M71.5 382v1M72.5 382v1M73.5 381v1M74.5 380v1M75.5 380v1M76.5 379v1M77.5 379v1M78.5 378v1M79.5 378v1M80.5 378v1M81.5 377v1M82.5 376v1M83.5 375v1M84.5 374v1M85.5 373v1M86.5 371v2M87.5 370v1M88.5 369v1M89.5 368v1M90.5 366v2M91.5 365v1M92.5 364v1M93.5 362v2M94.5 361v1M95.5 359v2M96.5 358v1M97.5 357v1M98.5 356v1M99.5 355v1M100.5 354v1M101.5 354v1M102.5 353v1M103.5 353v1M104.5 353v1M105.5 352v1M106.5 352v1M107.5 351v1M108.5 351v1M109.5 350v1M110.5 349v1M111.5 348v1M112.5 347v1M113.5 346v1M114.5 345v1M115.5 345v1M116.5 344v1M117.5 342v2M118.5 340v2M119.5 338v2M120.5 337v1M121.5 335v2M122.5 334v1M123.5 332v2M124.5 330v2M125.5 328v2M126.5 326v2M127.5 324v2M128.5 322v2M129.5 321v1M130.5 319v2M131.5 318v1M132.5 317v1M133.5 315v2M134.5 313v2M135.5 311v2M136.5 310v1M137.5 308v2M138.5 306v2M139.5 304v2M140.5 302v2M141.5 300v2M142.5 298v2M143.5 296v2M144.5 294v2M145.5 293v1M146.5 291v2M147.5 290v1M148.5 289v1M149.5 288v1M150.5 287v1M151.5 286v1M152.5 285v1M153.5 284v1M154.5 283v1M155.5 282v1M156.5 281v1M157.5 280v1M158.5 279v1M159.5 278v1M160.5 277v1M161.5 275v2M162.5 274v1M163.5 272v2M164.5 271v1M165.5 270v1M166.5 269v1M167.5 269v1M168.5 268v1M169.5 267v1M170.5 266v1M171.5 266v1M172.5 265v1M173.5 264v1M174.5 263v1M175.5 262v1M176.5 261v1M177.5 260v1M178.5 259v1M179.5 258v1M180.5 257v1M181.5 256v1M182.5 255v1M183.5 255v1M184.5 254v1M185.5 253v1M186.5 252v1M187.5 252v1M188.5 251v1M189.5 250v1M190.5 249v1M191.5 248v1M192.5 247v1M193.5 246v1M194.5 246v1M195.5 245v1M196.5 245v1M197.5 244v1M198.5 243v1M199.5 243v1M200.5 242v1M201.5 241v1M202.5 241v1M203.5 240v1M204.5 240v1M205.5 239v1M206.5 239v1M207.5 238v1M208.5 238v1M209.5 237v1M210.5 237v1M211.5 236v1M212.5 236v1M213.5 236v1M214.5 236v1M215.5 236v1M216.5 236v1M217.5 236v1M218.5 236v1M219.5 236v1M220.5 236v1M221.5 237v1M222.5 237v1M223.5 238v1M224.5 238v1M225.5 238v1M226.5 239v1M227.5 239v1M228.5 239v1M229.5 238v1M230.5 238v1M231.5 237v1M232.5 237v1M233.5 236v1M234.5 236v1M235.5 235v1M236.5 235v1M237.5 234v1M238.5 233v1M239.5 233v1M240.5 232v1M241.5 232v1M242.5 232v1M243.5 232v1M244.5 232v1M245.5 232v1M246.5 232v1M247.5 232v1M248.5 232v1M249.5 231v1M250.5 231v1M251.5 230v1M252.5 230v1M253.5 230v1M254.5 229v1M255.5 229v1M256.5 229v1M257.5 229v1M258.5 230v1M259.5 230v1M260.5 230v1M261.5 230v1M262.5 230v1M263.5 230v1M264.5 230v1M265.5 230v1M266.5 229v1M267.5 229v1M268.5 229v1M269.5 229v1M270.5 228v1M271.5 228v1M272.5 228v1M273.5 228v1M274.5 228v1M275.5 228v1M276.5 228v1M277.5 228v1M278.5 229v1M279.5 229v1M280.5 229v1M281.5 230v1M282.5 231v1M283.5 231v1M284.5 232v1M285.5 233v1M286.5 234v1M287.5 235v1M288.5 236v1M289.5 237v1M290.5 237v1M291.5 238v1M292.5 238v1M293.5 239v1M294.5 240v1M295.5 240v1M296.5 241v1M297.5 242v1M298.5 242v1M299.5 243v1M300.5 243v1M301.5 244v1M302.5 244v1M303.5 245v1M304.5 245v1M305.5 246v1M306.5 246v1M307.5 247v1M308.5 247v1M309.5 247v1M310.5 248v1M311.5 248v1M312.5 248v1M313.5 249v1M314.5 250v1M315.5 251v1M316.5 252v1M317.5 253v1M318.5 254v1M319.5 254v1M320.5 255v1M321.5 256v1M322.5 257v2M323.5 259v1M324.5 260v1M325.5 261v1M326.5 262v1M327.5 263v1M328.5 264v1M329.5 265v1M330.5 266v1M331.5 267v1M332.5 268v1M333.5 269v1M334.5 270v2M335.5 272v1M336.5 273v1M337.5 274v1M338.5 275v1M339.5 275v1M340.5 276v1M341.5 276v1M342.5 277v1M343.5 277v1M344.5 277v1M345.5 278v1M346.5 278v1M347.5 279v1M348.5 279v1M349.5 279v1M350.5 280v1M351.5 280v1M352.5 280v1M353.5 280v1M354.5 280v1M355.5 280v1M356.5 280v1M357.5 280v1M358.5 279v1M359.5 279v1M360.5 279v1M361.5 279v1M362.5 278v1M363.5 278v1M364.5 278v1M365.5 277v1M366.5 275v2M367.5 274v1M368.5 273v1M369.5 272v1M370.5 270v2M371.5 269v1M372.5 268v1M373.5 267v1M374.5 265v2M375.5 264v1M376.5 263v1M377.5 261v2M378.5 259v2M379.5 257v2M380.5 255v2M381.5 253v2M382.5 250v3M383.5 248v2M384.5 246v2M385.5 244v2M386.5 242v2M387.5 240v2M388.5 238v2M389.5 236v2M390.5 234v2M391.5 232v2M392.5 229v3M393.5 226v3M394.5 224v2M395.5 221v3M396.5 218v3M397.5 216v2M398.5 213v3M399.5 211v2M400.5 208v3M401.5 206v2M402.5 203v3M403.5 201v2M404.5 199v2M405.5 197v2M406.5 195v2M407.5 193v2M408.5 190v3M409.5 188v2M410.5 186v2M411.5 184v2M412.5 181v3M413.5 179v2M414.5 177v2M415.5 175v2M416.5 173v2M417.5 171v2M418.5 169v2M419.5 167v2M420.5 165v2M421.5 163v2M422.5 161v2M423.5 159v2M424.5 158v1M425.5 156v2M426.5 154v2M427.5 152v2M428.5 150v2M429.5 148v2M430.5 146v2M431.5 144v2M432.5 142v2M433.5 140v2M434.5 139v1M435.5 137v2M436.5 136v1M437.5 134v2M438.5 132v2M439.5 130v2M440.5 129v1M441.5 127v2M442.5 125v2M443.5 123v2M444.5 122v1M445.5 120v2M446.5 118v2M447.5 116v2M448.5 115v1M449.5 114v1M450.5 112v2M451.5 111v1M452.5 110v1M453.5 109v1M454.5 108v1M455.5 107v1M456.5 106v1M457.5 106v1M458.5 105v1M459.5 105v1M460.5 105v1M461.5 106v1M462.5 106v1M463.5 107v1M464.5 107v1M465.5 108v1M466.5 109v1M467.5 109v1M468.5 110v1M469.5 111v1M470.5 111v1M471.5 112v1M472.5 112v1M473.5 113v1M474.5 114v1M475.5 114v1M476.5 115v1M477.5 116v1M478.5 117v1M479.5 117v1M480.5 118v1M481.5 119v1M482.5 120v1M483.5 121v1M484.5 122v1M485.5 123v1M486.5 124v2M487.5 126v1M488.5 127v1M489.5 128v1M490.5 129v1M491.5 129v1M492.5 130v1M493.5 131v1M494.5 132v1M495.5 133v1M496.5 134v1M497.5 135v2M498.5 137v2M499.5 139v2M500.5 141v1M501.5 142v2M502.5 144v2M503.5 146v2M504.5 148v1M505.5 149v2M506.5 151v2M507.5 153v2M508.5 155v1M509.5 156v2M510.5 158v1M511.5 159v2M512.5 161v1M513.5 162v1M514.5 163v1M515.5 164v1M516.5 165v1M517.5 166v1M518.5 167v1M519.5 168v1M520.5 169v1M521.5 170v1M522.5 171v1M523.5 172v1M524.5 173v1M525.5 174v2M526.5 176v2M527.5 178v2M528.5 180v2M529.5 182v2M530.5 184v2M531.5 186v2M532.5 188v3M533.5 191v2M534.5 193v3M535.5 196v2M536.5 198v2M537.5 200v2M538.5 202v2M539.5 204v2M540.5 206v2M541.5 208v2M542.5 210v2M543.5 212v2M544.5 214v1M545.5 215v1M546.5 216v2M547.5 218v1M548.5 219v2M549.5 221v2M550.5 223v3M551.5 226v2M552.5 228v2M553.5 230v2M554.5 232v2M555.5 234v2M556.5 236v1M557.5 237v2M558.5 239v2M559.5 241v2M560.5 243v2M561.5 245v2M562.5 247v2M563.5 249v2M564.5 251v2M565.5 253v2M566.5 255v2M567.5 257v2M568.5 259v1M569.5 260v2M570.5 262v1M571.5 263v2M572.5 265v1M573.5 266v1M574.5 267v2M575.5 269v1M576.5 270v1M577.5 271v1M578.5 272v1M579.5 273v1M580.5 274v1M581.5 275v1M582.5 275v1M583.5 276v1M584.5 276v1M585.5 276v1M586.5 276v1M587.5 276v1M588.5 276v1M589.5 277v1M590.5 278v1M591.5 279v1M592.5 280v2M593.5 282v2M594.5 284v2M595.5 286v2M596.5 288v3M597.5 291v3M598.5 294v4M599.5 298v3M600.5 301v3M601.5 304v3M602.5 307v4M603.5 311v3M604.5 314v3M605.5 317v4M606.5 321v4M607.5 325v4M608.5 329v3M609.5 332v2M610.5 334v3M611.5 337v2M612.5 339v3M613.5 342v2M614.5 344v2M615.5 346v2M616.5 348v2M617.5 350v2M618.5 352v2M619.5 354v2M620.5 356v1M621.5 357v2M622.5 359v2M623.5 361v2M624.5 363v1M625.5 364v2M626.5 366v1M627.5 367v2M628.5 369v1M629.5 369v1M630.5 370v1M631.5 370v1M632.5 370v1M633.5 370v1M634.5 371v1M635.5 371v1M636.5 371v1M637.5 372v1M638.5 372v1M639.5 373v1M640.5 373v1M641.5 374v1M642.5 374v1M643.5 375v1M644.5 375v1M645.5 375v1M646.5 375v1M647.5 375v1M648.5 375v1M649.5 375v1M650.5 376v1M651.5 376v1M652.5 376v1M653.5 376v1M654.5 376v1M655.5 376v1M656.5 376v1M657.5 377v1M658.5 377v1M659.5 378v1M660.5 378v1M661.5 379v1M662.5 380v2M663.5 382v1M664.5 383v1M665.5 384v1M666.5 385v1M667.5 385v1M668.5 386v1M669.5 387v2M670.5 389v2M671.5 391v2M672.5 393v1M673.5 394v1M674.5 395v1M675.5 396v1M676.5 397v1M677.5 396v1M678.5 396v1M679.5 395v1M680.5 395v1M681.5 394v1M682.5 392v2M683.5 391v1M684.5 390v1M685.5 389v1M686.5 388v1M687.5 387v1M688.5 386v1M689.5 385v1M690.5 384v1M691.5 383v1M692.5 382v1M693.5 381v1M694.5 380v1M695.5 380v1M696.5 379v1M697.5 378v1M698.5 377v1M699.5 377v1M700.5 376v1M701.5 375v1M702.5 375v1M703.5 374v1M704.5 374v1M705.5 373v1M706.5 372v1M707.5 371v1M708.5 370v1M709.5 369v1M710.5 369v1M711.5 368v1M712.5 368v1M713.5 368v1M714.5 367v1M715.5 367v1M716.5 367v1M717.5 366v1M718.5 365v1M719.5 364v1M720.5 363v1M721.5 362v1M722.5 361v1M723.5 361v1M724.5 360v1M725.5 359v1M726.5 358v1M727.5 358v1M728.5 357v1M729.5 357v1M730.5 358v1M731.5 358v1M732.5 358v1M733.5 358v1M734.5 357v1M735.5 357v1M736.5 357v1M737.5 358v1M738.5 358v1M739.5 359v1M740.5 359v1M741.5 360v1M742.5 361v1M743.5 362v1M744.5 363v1M745.5 364v1M746.5 364v1M747.5 365v1M748.5 365v2M749.5 367v2M750.5 369v2M751.5 371v2M752.5 373v2M753.5 375v1M754.5 376v1M755.5 376v1M756.5 377v1M757.5 378v1M758.5 379v1M759.5 380v1M760.5 381v1M761.5 382v1M762.5 383v1M763.5 384v1M764.5 385v1M765.5 386v2M766.5 388v2M767.5 390v2M768.5 392v1M769.5 393v2M770.5 395v1M771.5 396v2M772.5 398v1M773.5 399v2M774.5 401v1M775.5 402v2M776.5 404v1M777.5 405v1M778.5 405v1M779.5 406v1M780.5 406v1M781.5 407v1M782.5 408v1M783.5 409v1M784.5 410v1M785.5 411v1M786.5 412v1M787.5 412v1M788.5 413v1M789.5 414v1M790.5 415v1M791.5 415v1M792.5 416v1M793.5 417v1M794.5 417v1M795.5 418v1M796.5 418v1M797.5 419v1M798.5 420v1M799.5 421v1M800.5 422v1M801.5 423v2M802.5 425v1M803.5 426v2M804.5 428v1M805.5 429v1M806.5 430v2M807.5 432v1M808.5 433v1M809.5 434v1M810.5 435v1M811.5 435v1M812.5 436v1M813.5 437v2M814.5 439v2M815.5 441v2M816.5 443v1M817.5 444v2M818.5 446v2M819.5 448v2M820.5 450v2M821.5 452v1M822.5 453v2M823.5 455v1M824.5 456v1M825.5 456v1M826.5 456v1M827.5 456v1M828.5 456v1M829.5 456v1M830.5 457v1M831.5 457v1M832.5 457v1M833.5 455v2M834.5 453v2M835.5 451v2M836.5 450v1M837.5 448v2M838.5 447v1M839.5 445v2M840.5 444v1M841.5 442v2M842.5 441v1M843.5 439v2M844.5 438v1M845.5 436v2M846.5 434v2M847.5 432v2M848.5 431v1M849.5 429v2M850.5 428v1M851.5 426v2M852.5 425v1M853.5 424v1M854.5 423v1M855.5 423v1M856.5 422v1M857.5 420v2M858.5 418v2M859.5 416v2M860.5 414v2M861.5 413v1M862.5 412v1M863.5 411v1M864.5 410v1M865.5 408v2M866.5 406v2M867.5 404v2M868.5 403v1M869.5 401v2M870.5 400v1M871.5 398v2M872.5 397v1M873.5 395v2M874.5 394v1M875.5 392v2M876.5 391v1M877.5 389v2M878.5 388v1M879.5 386v2M880.5 385v1M881.5 384v1M882.5 383v1M883.5 382v1M884.5 381v1M885.5 380v1M886.5 378v2M887.5 377v1M888.5 376v1M889.5 375v1M890.5 375v1M891.5 374v1M892.5 374v1M893.5 373v1M894.5 372v1M895.5 371v1M896.5 370v1M897.5 368v2M898.5 366v2M899.5 364v2M900.5 362v2M901.5 360v2M902.5 357v3M903.5 355v2M904.5 353v2M905.5 351v2M906.5 350v1M907.5 348v2M908.5 347v1M909.5 346v1M910.5 345v1M911.5 344v1M912.5 343v1M913.5 342v1M914.5 341v1M915.5 340v1M916.5 339v1M917.5 338v1M918.5 338v1M919.5 337v1M920.5 337v1M921.5 338v1M922.5 338v1M923.5 339v1M924.5 339v1M925.5 339v1M926.5 338v1M927.5 338v1M928.5 338v1M929.5 338v1M930.5 337v1M931.5 337v1M932.5 337v1M933.5 337v1M934.5 336v1M935.5 336v1M936.5 336v1M937.5 335v1M938.5 333v2M939.5 332v1M940.5 331v1M941.5 330v1M942.5 329v1M943.5 328v1M944.5 327v1M945.5 326v1M946.5 326v1M947.5 325v1M948.5 325v1M949.5 324v1M950.5 323v1M951.5 322v1M952.5 321v1M953.5 320v1M954.5 320v1M955.5 319v1M956.5 319v1M957.5 319v1M958.5 318v1M959.5 318v1M960.5 318v1M961.5 318v1M962.5 318v1M963.5 318v1M964.5 318v1M965.5 317v1M966.5 317v1M967.5 316v1M968.5 316v1M969.5 316v1M970.5 315v1M971.5 315v1M972.5 315v1M973.5 314v1M974.5 314v1M975.5 313v1M976.5 313v1M977.5 312v1M978.5 312v1M979.5 311v1M980.5 311v1M981.5 310v1M982.5 310v1M983.5 309v1M984.5 309v1M985.5 309v1M986.5 309v1M987.5 309v1M988.5 309v1M989.5 308v1M990.5 308v1M991.5 307v1M992.5 307v1M993.5 306v1M994.5 305v1M995.5 305v1M996.5 304v1M997.5 304v1M998.5 303v1M999.5 303v1M1000.5 303v1M1001.5 303v1M1002.5 304v1M1003.5 304v1M1004.5 304v1M1005.5 304v1M1006.5 304v1M1007.5 304v1M1008.5 304v1M1009.5 305v1M1010.5 306v1M1011.5 306v1M1012.5 307v1M1013.5 308v1M1014.5 309v1M1015.5 309v1M1016.5 310v1M1017.5 310v1M1018.5 310v1M1019.5 310v1M1020.5 310v1M1021.5 310v1M1022.5 310v1M1023.5 310v1M1024.5 310v1M1025.5 311v1M1026.5 312v1M1027.5 312v1M1028.5 313v1M1029.5 313v1M1030.5 312v1M1031.5 312v1M1032.5 312v1M1033.5 312v1M1034.5 313v1M1035.5 313v1M1036.5 313v1M1037.5 313v1M1038.5 314v1M1039.5 314v1M1040.5 314v1M1041.5 314v1M1042.5 314v1M1043.5 314v1M1044.5 314v1M1045.5 315v1M1046.5 315v1M1047.5 316v1M1048.5 316v1M1049.5 317v1M1050.5 318v1M1051.5 319v1M1052.5 320v1M1053.5 321v1M1054.5 322v1M1055.5 322v1M1056.5 323v1M1057.5 324v1M1058.5 325v1M1059.5 325v1M1060.5 326v1M1061.5 327v1M1062.5 328v1M1063.5 328v1M1064.5 329v1M1065.5 330v1M1066.5 330v1M1067.5 331v1M1068.5 331v1M1069.5 332v1M1070.5 333v1M1071.5 333v1M1072.5 334v1M1073.5 334v1M1074.5 335v1M1075.5 335v1M1076.5 335v1M1077.5 335v1M1078.5 335v1M1079.5 335v1M1080.5 335v1M1081.5 335v1M1082.5 334v1M1083.5 334v1M1084.5 334v1M1085.5 333v1M1086.5 333v1M1087.5 332v1M1088.5 332v1M1089.5 331v1M1090.5 330v1M1091.5 330v1M1092.5 329v1M1093.5 328v1M1094.5 328v1M1095.5 327v1M1096.5 327v1M1097.5 327v1M1098.5 326v1M1099.5 326v1M1100.5 326v1M1101.5 326v1M1102.5 325v1M1103.5 325v1M1104.5 325v1M1105.5 325v1M1106.5 326v1M1107.5 326v1M1108.5 326v1M1109.5 326v1M1110.5 327v1M1111.5 327v1M1112.5 327v1M1113.5 328v1M1114.5 328v1M1115.5 329v1M1116.5 329v1M1117.5 330v1M1118.5 330v1M1119.5 331v1M1120.5 331v1M1121.5 331v1M1122.5 332v1M1123.5 332v1M1124.5 332v1M1125.5 332v1M1126.5 332v1M1127.5 332v1M1128.5 332v1" stroke="#ffff00" stroke-width="1" fill="none" shape-rendering="crispEdges"/>
<path d="M4.5 325v1M5.5 326v2M6.5 328v2M7.5 330v2M8.5 332v2M9.5 334v2M10.5 336v2M11.5 338v2M12.5 340v1M13.5 341v2M14.5 343v2M15.5 345v2M16.5 347v2M17.5 349v1M18.5 350v2M19.5 352v1M20.5 353v1M21.5 354v1M22.5 355v2M23.5 357v1M24.5 358v1M25.5 359v1M26.5 360v1M27.5 360v1M28.5 361v1M29.5 361v1M30.5 362v1M31.5 362v1M32.5 362v2M33.5 364v2M34.5 366v2M35.5 368v2M36.5 370v2M37.5 372v2M38.5 374v1M39.5 375v2M40.5 377v2M41.5 379v3M42.5 382v2M43.5 384v3M44.5 387v2M45.5 389v1M46.5 389v1M47.5 390v1M48.5 390v1M49.5 391v1M50.5 392v2M51.5 394v1M52.5 395v1M53.5 396v1M54.5 397v1M55.5 397v1M56.5 398v1M57.5 399v1M58.5 399v1M59.5 400v1M60.5 400v1M61.5 399v1M62.5 399v1M63.5 398v1M64.5 398v1M65.5 396v2M66.5 395v1M67.5 393v2M68.5 392v1M69.5 390v2M70.5 388v2M71.5 386v2M72.5 385v1M73.5 384v1M74.5 383v1M75.5 382v1M76.5 381v1M77.5 380v1M78.5 378v2M79.5 377v1M80.5 376v1M81.5 374v2M82.5 372v2M83.5 370v2M84.5 369v1M85.5 367v2M86.5 365v2M87.5 363v2M88.5 361v2M89.5 359v2M90.5 356v3M91.5 354v2M92.5 351v3M93.5 349v2M94.5 347v2M95.5 345v2M96.5 342v3M97.5 339v3M98.5 336v3M99.5 333v3M100.5 331v2M101.5 330v1M102.5 328v2M103.5 327v1M104.5 326v1M105.5 325v1M106.5 323v2M107.5 322v1M108.5 321v1M109.5 319v2M110.5 317v2M111.5 315v2M112.5 314v1M113.5 312v2M114.5 310v2M115.5 308v2M116.5 307v1M117.5 306v1M118.5 305v1M119.5 304v1M120.5 303v1M121.5 302v1M122.5 301v1M123.5 300v1M124.5 299v1M125.5 299v1M126.5 298v1M127.5 298v1M128.5 298v1M129.5 298v1M130.5 297v1M131.5 297v1M132.5 297v1M133.5 296v1M134.5 295v1M135.5 295v1M136.5 294v1M137.5 293v1M138.5 292v1M139.5 292v1M140.5 291v1M141.5 290v1M142.5 289v1M143.5 289v1M144.5 288v1M145.5 287v1M146.5 286v1M147.5 286v1M148.5 285v1M149.5 284v1M150.5 283v1M151.5 283v1M152.5 282v1M153.5 280v2M154.5 278v2M155.5 276v2M156.5 275v1M157.5 273v2M158.5 271v2M159.5 269v2M160.5 266v3M161.5 264v2M162.5 261v3M163.5 259v2M164.5 257v2M165.5 255v2M166.5 253v2M167.5 251v2M168.5 250v1M169.5 248v2M170.5 247v1M171.5 245v2M172.5 244v1M173.5 242v2M174.5 240v2M175.5 238v2M176.5 237v1M177.5 235v2M178.5 234v1M179.5 232v2M180.5 231v1M181.5 230v1M182.5 229v1M183.5 229v1M184.5 228v1M185.5 228v1M186.5 227v1M187.5 227v1M188.5 227v1M189.5 227v1M190.5 226v1M191.5 226v1M192.5 226v1M193.5 226v1M194.5 227v1M195.5 227v1M196.5 227v1M197.5 228v1M198.5 228v1M199.5 229v1M200.5 229v1M201.5 229v1M202.5 229v1M203.5 229v1M204.5 229v1M205.5 229v1M206.5 228v1M207.5 228v1M208.5 228v1M209.5 229v1M210.5 230v1M211.5 230v1M212.5 231v1M213.5 232v1M214.5 233v2M215.5 235v1M216.5 236v1M217.5 237v2M218.5 239v1M219.5 240v2M220.5 242v1M221.5 243v1M222.5 244v1M223.5 245v1M224.5 246v1M225.5 247v1M226.5 248v1M227.5 248v1M228.5 249v1M229.5 249v1M230.5 249v1M231.5 249v1M232.5 249v1M233.5 249v1M234.5 250v1M235.5 250v1M236.5 250v1M237.5 248v2M238.5 247v1M239.5 245v2M240.5 244v1M241.5 243v1M242.5 241v2M243.5 240v1M244.5 239v1M245.5 238v1M246.5 237v1M247.5 236v1M248.5 235v1M249.5 233v2M250.5 232v1M251.5 230v2M252.5 229v1M253.5 228v1M254.5 226v2M255.5 225v1M256.5 224v1M257.5 223v1M258.5 223v1M259.5 222v1M260.5 222v1M261.5 221v1M262.5 221v1M263.5 220v1M264.5 220v1M265.5 219v1M266.5 219v1M267.5 218v1M268.5 218v1M269.5 217v1M270.5 216v1M271.5 216v1M272.5 215v1M273.5 215v1M274.5 214v1M275.5 214v1M276.5 214v1M277.5 214v1M278.5 214v1M279.5 214v1M280.5 214v1M281.5 215v1M282.5 216v2M283.5 218v1M284.5 219v1M285.5 220v2M286.5 222v2M287.5 224v2M288.5 226v2M289.5 228v2M290.5 230v1M291.5 231v2M292.5 233v2M293.5 235v2M294.5 237v3M295.5 240v2M296.5 242v3M297.5 245v2M298.5 247v2M299.5 249v2M300.5 251v3M301.5 254v2M302.5 256v2M303.5 258v2M304.5 260v3M305.5 263v2M306.5 265v2M307.5 267v2M308.5 269v2M309.5 271v2M310.5 273v2M311.5 275v2M312.5 277v2M313.5 279v1M314.5 280v1M315.5 281v1M316.5 282v1M317.5 283v2M318.5 285v1M319.5 286v2M320.5 288v1M321.5 289v1M322.5 289v1M323.5 290v1M324.5 290v1M325.5 291v1M326.5 291v1M327.5 292v1M328.5 292v1M329.5 293v1M330.5 294v1M331.5 294v1M332.5 295v1M333.5 295v1M334.5 294v1M335.5 294v1M336.5 294v1M337.5 293v1M338.5 291v2M339.5 290v1M340.5 289v1M341.5 288v1M342.5 286v2M343.5 285v1M344.5 284v1M345.5 283v1M346.5 282v1M347.5 282v1M348.5 281v1M349.5 280v1M350.5 279v1M351.5 278v1M352.5 277v1M353.5 275v2M354.5 274v1M355.5 272v2M356.5 271v1M357.5 270v1M358.5 268v2M359.5 267v1M360.5 266v1M361.5 265v1M362.5 263v2M363.5 262v1M364.5 261v1M365.5 260v1M366.5 258v2M367.5 257v1M368.5 256v1M369.5 255v1M370.5 254v1M371.5 253v1M372.5 252v1M373.5 250v2M374.5 248v2M375.5 246v2M376.5 244v2M377.5 242v2M378.5 240v2M379.5 238v2M380.5 236v2M381.5 233v3M382.5 231v2M383.5 228v3M384.5 225v3M385.5 223v2M386.5 220v3M387.5 218v2M388.5 215v3M389.5 213v2M390.5 210v3M391.5 208v2M392.5 205v3M393.5 202v3M394.5 198v4M395.5 195v3M396.5 192v3M397.5 189v3M398.5 186v3M399.5 183v3M400.5 180v3M401.5 177v3M402.5 173v4M403.5 170v3M404.5 167v3M405.5 164v3M406.5 161v3M407.5 158v3M408.5 155v3M409.5 153v2M410.5 150v3M411.5 148v2M412.5 145v3M413.5 142v3M414.5 140v2M415.5 137v3M416.5 134v3M417.5 132v2M418.5 129v3M419.5 127v2M420.5 124v3M421.5 122v2M422.5 120v2M423.5 118v2M424.5 115v3M425.5 113v2M426.5 110v3M427.5 108v2M428.5 106v2M429.5 104v2M430.5 103v1M431.5 101v2M432.5 100v1M433.5 99v1M434.5 98v1M435.5 98v1M436.5 97v1M437.5 96v1M438.5 96v1M439.5 95v1M440.5 95v1M441.5 94v1M442.5 93v1M443.5 93v1M444.5 92v1M445.5 91v1M446.5 90v1M447.5 90v1M448.5 89v1M449.5 90v1M450.5 91v1M451.5 91v1M452.5 92v1M453.5 93v1M454.5 94v2M455.5 96v1M456.5 97v1M457.5 98v2M458.5 100v1M459.5 101v2M460.5 103v1M461.5 104v2M462.5 106v2M463.5 108v2M464.5 110v2M465.5 112v2M466.5 114v2M467.5 116v2M468.5 118v1M469.5 119v2M470.5 121v2M471.5 123v2M472.5 125v1M473.5 126v1M474.5 127v2M475.5 129v1M476.5 130v1M477.5 131v1M478.5 132v1M479.5 133v1M480.5 134v1M481.5 135v1M482.5 136v2M483.5 138v1M484.5 139v1M485.5 140v2M486.5 142v1M487.5 143v2M488.5 145v1M489.5 146v1M490.5 147v1M491.5 147v1M492.5 148v1M493.5 149v1M494.5 150v2M495.5 152v1M496.5 153v2M497.5 155v3M498.5 158v2M499.5 160v3M500.5 163v3M501.5 166v3M502.5 169v2M503.5 171v3M504.5 174v2M505.5 176v2M506.5 178v2M507.5 180v2M508.5 182v2M509.5 184v2M510.5 186v1M511.5 187v2M512.5 189v1M513.5 190v1M514.5 190v1M515.5 191v1M516.5 191v1M517.5 190v1M518.5 190v1M519.5 189v1M520.5 189v1M521.5 189v1M522.5 190v1M523.5 190v1M524.5 190v1M525.5 191v1M526.5 192v1M527.5 193v1M528.5 194v1M529.5 195v2M530.5 197v2M531.5 199v2M532.5 201v2M533.5 203v3M534.5 206v2M535.5 208v3M536.5 211v3M537.5 214v3M538.5 217v3M539.5 220v3M540.5 223v3M541.5 226v2M542.5 228v2M543.5 230v2M544.5 232v3M545.5 235v3M546.5 238v3M547.5 241v3M548.5 244v3M549.5 247v4M550.5 251v3M551.5 254v4M552.5 258v2M553.5 260v2M554.5 262v2M555.5 264v2M556.5 266v2M557.5 268v2M558.5 270v2M559.5 272v2M560.5 274v1M561.5 275v2M562.5 277v1M563.5 278v2M564.5 280v1M565.5 281v2M566.5 283v1M567.5 284v2M568.5 286v1M569.5 287v2M570.5 289v2M571.5 291v2M572.5 293v2M573.5 295v2M574.5 297v1M575.5 298v2M576.5 300v1M577.5 301v1M578.5 302v2M579.5 304v1M580.5 305v1M581.5 305v1M582.5 306v1M583.5 306v1M584.5 306v1M585.5 306v1M586.5 305v1M587.5 305v1M588.5 305v1M589.5 305v1M590.5 305v1M591.5 305v1M592.5 305v1M593.5 306v2M594.5 308v2M595.5 310v2M596.5 312v2M597.5 314v3M598.5 317v2M599.5 319v3M600.5 322v3M601.5 325v2M602.5 327v3M603.5 330v2M604.5 332v3M605.5 335v2M606.5 337v2M607.5 339v2M608.5 341v3M609.5 344v2M610.5 346v2M611.5 348v2M612.5 350v2M613.5 352v2M614.5 354v2M615.5 356v2M616.5 358v3M617.5 361v2M618.5 363v2M619.5 365v2M620.5 367v3M621.5 370v3M622.5 373v3M623.5 376v3M624.5 379v3M625.5 382v2M626.5 384v2M627.5 386v2M628.5 388v2M629.5 390v2M630.5 392v2M631.5 394v2M632.5 396v1M633.5 397v2M634.5 399v2M635.5 401v2M636.5 403v2M637.5 405v2M638.5 407v2M639.5 409v2M640.5 411v3M641.5 414v2M642.5 416v3M643.5 419v2M644.5 421v2M645.5 422v1M646.5 423v1M647.5 423v1M648.5 423v1M649.5 421v2M650.5 419v2M651.5 417v2M652.5 415v2M653.5 412v3M654.5 410v2M655.5 407v3M656.5 404v3M657.5 401v3M658.5 399v2M659.5 396v3M660.5 393v3M661.5 391v2M662.5 388v3M663.5 386v2M664.5 383v3M665.5 381v2M666.5 379v2M667.5 377v2M668.5 375v2M669.5 374v1M670.5 373v1M671.5 372v1M672.5 371v1M673.5 370v1M674.5 368v2M675.5 367v1M676.5 366v1M677.5 365v1M678.5 363v2M679.5 362v1M680.5 361v1M681.5 360v1M682.5 358v2M683.5 357v1M684.5 356v1M685.5 356v1M686.5 356v1M687.5 356v1M688.5 356v1M689.5 357v1M690.5 357v1M691.5 358v1M692.5 358v1M693.5 359v1M694.5 359v1M695.5 360v1M696.5 360v1M697.5 360v1M698.5 361v1M699.5 361v1M700.5 361v1M701.5 362v2M702.5 364v1M703.5 365v2M704.5 367v1M705.5 368v1M706.5 369v1M707.5 370v1M708.5 371v1M709.5 372v2M710.5 374v1M711.5 375v2M712.5 377v1M713.5 377v1M714.5 378v1M715.5 378v1M716.5 378v1M717.5 377v1M718.5 376v1M719.5 375v1M720.5 374v1M721.5 374v1M722.5 373v1M723.5 373v1M724.5 373v1M725.5 372v1M726.5 370v2M727.5 369v1M728.5 368v1M729.5 367v1M730.5 366v1M731.5 366v1M732.5 365v1M733.5 363v2M734.5 362v1M735.5 360v2M736.5 359v1M737.5 359v1M738.5 358v1M739.5 358v1M740.5 358v1M741.5 359v1M742.5 359v1M743.5 360v1M744.5 360v1M745.5 360v1M746.5 360v1M747.5 360v1M748.5 360v1M749.5 361v2M750.5 363v2M751.5 365v2M752.5 367v2M753.5 369v1M754.5 370v1M755.5 371v1M756.5 372v1M757.5 373v1M758.5 374v2M759.5 376v1M760.5 377v1M761.5 378v2M762.5 380v2M763.5 382v2M764.5 384v1M765.5 385v2M766.5 387v2M767.5 389v2M768.5 391v2M769.5 393v3M770.5 396v4M771.5 400v3M772.5 403v3M773.5 406v4M774.5 410v4M775.5 414v4M776.5 418v3M777.5 421v3M778.5 424v2M779.5 426v3M780.5 429v3M781.5 432v3M782.5 435v2M783.5 437v3M784.5 440v2M785.5 442v2M786.5 444v2M787.5 446v2M788.5 448v3M789.5 451v2M790.5 453v3M791.5 456v2M792.5 458v2M793.5 460v2M794.5 462v2M795.5 464v2M796.5 466v1M797.5 466v1M798.5 466v1M799.5 466v1M800.5 466v1M801.5 467v1M802.5 468v1M803.5 468v1M804.5 469v1M805.5 467v2M806.5 465v2M807.5 463v2M808.5 462v1M809.5 461v1M810.5 459v2M811.5 458v1M812.5 457v1M813.5 457v1M814.5 457v1M815.5 457v1M816.5 457v1M817.5 457v1M818.5 458v1M819.5 458v1M820.5 458v1M821.5 457v1M822.5 455v2M823.5 454v1M824.5 453v1M825.5 451v2M826.5 450v1M827.5 448v2M828.5 447v1M829.5 445v2M830.5 443v2M831.5 441v2M832.5 440v1M833.5 438v2M834.5 437v1M835.5 435v2M836.5 433v2M837.5 430v3M838.5 428v2M839.5 425v3M840.5 423v2M841.5 421v2M842.5 419v2M843.5 417v2M844.5 415v2M845.5 413v2M846.5 411v2M847.5 409v2M848.5 407v2M849.5 406v1M850.5 405v1M851.5 404v1M852.5 403v1M853.5 403v1M854.5 403v1M855.5 403v1M856.5 403v1M857.5 402v1M858.5 400v2M859.5 399v1M860.5 398v1M861.5 397v1M862.5 396v1M863.5 395v1M864.5 394v1M865.5 393v1M866.5 393v1M867.5 392v1M868.5 391v2M869.5 388v3M870.5 385v3M871.5 382v3M872.5 379v3M873.5 376v3M874.5 374v2M875.5 371v3M876.5 368v3M877.5 366v2M878.5 364v2M879.5 362v2M880.5 360v2M881.5 358v2M882.5 357v1M883.5 355v2M884.5 354v1M885.5 352v2M886.5 351v1M887.5 349v2M888.5 348v1M889.5 348v1M890.5 348v1M891.5 348v1M892.5 348v1M893.5 347v1M894.5 347v1M895.5 346v1M896.5 346v1M897.5 345v1M898.5 345v1M899.5 344v1M900.5 344v1M901.5 343v1M902.5 342v1M903.5 341v1M904.5 340v1M905.5 339v1M906.5 338v1M907.5 337v1M908.5 336v1M909.5 334v2M910.5 333v1M911.5 331v2M912.5 330v1M913.5 329v1M914.5 328v1M915.5 327v1M916.5 326v1M917.5 326v1M918.5 325v1M919.5 325v1M920.5 325v1M921.5 326v1M922.5 326v1M923.5 327v1M924.5 327v1M925.5 327v1M926.5 327v1M927.5 327v1M928.5 327v1M929.5 327v1M930.5 326v1M931.5 326v1M932.5 326v1M933.5 327v1M934.5 327v1M935.5 328v1M936.5 328v1M937.5 328v1M938.5 328v1M939.5 328v1M940.5 328v1M941.5 327v1M942.5 326v1M943.5 325v1M944.5 324v1M945.5 323v1M946.5 322v1M947.5 321v1M948.5 320v1M949.5 319v1M950.5 319v1M951.5 318v1M952.5 318v1M953.5 317v1M954.5 316v1M955.5 316v1M956.5 315v1M957.5 315v1M958.5 316v1M959.5 316v1M960.5 316v1M961.5 316v1M962.5 316v1M963.5 316v1M964.5 316v1M965.5 315v1M966.5 314v1M967.5 314v1M968.5 313v1M969.5 313v1M970.5 313v1M971.5 313v1M972.5 313v1M973.5 312v1M974.5 311v1M975.5 311v1M976.5 310v1M977.5 308v2M978.5 307v1M979.5 305v2M980.5 304v1M981.5 303v1M982.5 302v1M983.5 301v1M984.5 300v1M985.5 299v1M986.5 298v1M987.5 298v1M988.5 297v1M989.5 296v1M990.5 295v1M991.5 294v1M992.5 293v1M993.5 292v1M994.5 290v2M995.5 289v1M996.5 288v1M997.5 289v1M998.5 289v1M999.5 290v1M1000.5 290v1M1001.5 291v1M1002.5 292v1M1003.5 293v1M1004.5 294v1M1005.5 295v2M1006.5 297v2M1007.5 299v2M1008.5 301v1M1009.5 302v2M1010.5 304v2M1011.5 306v2M1012.5 308v2M1013.5 310v1M1014.5 311v2M1015.5 313v1M1016.5 314v1M1017.5 315v1M1018.5 316v1M1019.5 316v1M1020.5 317v1M1021.5 318v1M1022.5 319v1M1023.5 319v1M1024.5 320v1M1025.5 320v1M1026.5 320v1M1027.5 320v1M1028.5 320v1M1029.5 320v1M1030.5 319v1M1031.5 319v1M1032.5 319v1M1033.5 319v1M1034.5 320v1M1035.5 320v1M1036.5 320v1M1037.5 321v1M1038.5 321v1M1039.5 322v1M1040.5 322v1M1041.5 323v1M1042.5 324v1M1043.5 324v1M1044.5 325v1M1045.5 326v1M1046.5 327v2M1047.5 329v1M1048.5 330v1M1049.5 331v2M1050.5 333v2M1051.5 335v2M1052.5 337v1M1053.5 338v2M1054.5 340v1M1055.5 341v2M1056.5 343v1M1057.5 343v1M1058.5 344v1M1059.5 344v1M1060.5 344v1M1061.5 343v1M1062.5 343v1M1063.5 342v1M1064.5 342v1M1065.5 341v1M1066.5 339v2M1067.5 338v1M1068.5 337v1M1069.5 336v1M1070.5 335v1M1071.5 335v1M1072.5 334v1M1073.5 333v1M1074.5 332v1M1075.5 331v1M1076.5 330v1M1077.5 329v1M1078.5 328v1M1079.5 327v1M1080.5 326v1M1081.5 325v1M1082.5 324v1M1083.5 324v1M1084.5 323v1M1085.5 323v1M1086.5 324v1M1087.5 324v1M1088.5 324v1M1089.5 324v1M1090.5 325v1M1091.5 325v1M1092.5 325v1M1093.5 326v1M1094.5 327v1M1095.5 327v1M1096.5 328v1M1097.5 329v1M1098.5 330v1M1099.5 330v1M1100.5 331v1M1101.5 331v1M1102.5 330v1M1103.5 330v1M1104.5 330v1M1105.5 330v1M1106.5 329v1M1107.5 329v1M1108.5 329v1M1109.5 328v1M1110.5 327v1M1111.5 327v1M1112.5 326v1M1113.5 325v1M1114.5 325v1M1115.5 324v1M1116.5 324v1M1117.5 324v1M1118.5 323v1M1119.5 323v1M1120.5 323v1M1121.5 323v1M1122.5 323v1M1123.5 323v1M1124.5 323v1M1125.5 323v1M1126.5 322v1M1127.5 322v1M1128.5 322v1" stroke="#ff0000" stroke-width="1" fill="none" shape-rendering="crispEdges"/>
<path d="M4.5 342v2M5.5 344v3M6.5 347v3M7.5 350v3M8.5 353v3M9.5 356v2M10.5 358v3M11.5 361v2M12.5 363v3M13.5 366v3M14.5 369v2M15.5 371v3M16.5 374v2M17.5 375v1M18.5 374v1M19.5 374v1M20.5 374v1M21.5 375v2M22.5 377v2M23.5 379v2M24.5 381v1M25.5 382v1M26.5 382v1M27.5 383v1M28.5 383v1M29.5 383v1M30.5 383v1M31.5 383v1M32.5 383v1M33.5 384v2M34.5 386v1M35.5 387v2M36.5 389v1M37.5 389v1M38.5 389v1M39.5 389v1M40.5 389v2M41.5 391v3M42.5 394v2M43.5 396v3M44.5 399v2M45.5 401v2M46.5 403v1M47.5 404v2M48.5 406v1M49.5 407v1M50.5 408v1M51.5 409v1M52.5 410v1M53.5 411v1M54.5 411v1M55.5 412v1M56.5 412v1M57.5 413v1M58.5 414v2M59.5 416v1M60.5 416v2M61.5 414v2M62.5 411v3M63.5 409v2M64.5 406v3M65.5 403v3M66.5 400v3M67.5 397v3M68.5 392v5M69.5 386v6M70.5 380v6M71.5 374v6M72.5 369v5M73.5 365v4M74.5 362v3M75.5 358v4M76.5 355v3M77.5 351v4M78.5 348v3M79.5 344v4M80.5 341v3M81.5 337v4M82.5 333v4M83.5 329v4M84.5 324v5M85.5 319v5M86.5 314v5M87.5 309v5M88.5 305v4M89.5 303v2M90.5 301v2M91.5 299v2M92.5 297v2M93.5 295v2M94.5 294v1M95.5 292v2M96.5 291v1M97.5 291v1M98.5 292v1M99.5 292v1M100.5 292v1M101.5 293v1M102.5 294v1M103.5 294v1M104.5 295v1M105.5 296v1M106.5 297v2M107.5 299v1M108.5 300v1M109.5 301v1M110.5 302v1M111.5 302v1M112.5 303v1M113.5 304v1M114.5 305v1M115.5 306v1M116.5 307v1M117.5 307v1M118.5 308v1M119.5 308v1M120.5 308v1M121.5 308v1M122.5 308v1M123.5 308v1M124.5 308v1M125.5 307v1M126.5 306v1M127.5 306v1M128.5 305v1M129.5 303v2M130.5 301v2M131.5 299v2M132.5 297v2M133.5 295v2M134.5 293v2M135.5 291v2M136.5 288v3M137.5 286v2M138.5 284v2M139.5 282v2M140.5 279v3M141.5 276v3M142.5 274v2M143.5 271v3M144.5 269v2M145.5 267v2M146.5 265v2M147.5 263v2M148.5 262v1M149.5 260v2M150.5 259v1M151.5 257v2M152.5 255v2M153.5 253v2M154.5 250v3M155.5 248v2M156.5 245v3M157.5 243v2M158.5 240v3M159.5 238v2M160.5 235v3M161.5 232v3M162.5 230v2M163.5 227v3M164.5 225v2M165.5 224v1M166.5 223v1M167.5 222v1M168.5 221v1M169.5 220v1M170.5 220v1M171.5 219v1M172.5 219v1M173.5 217v2M174.5 216v1M175.5 214v2M176.5 213v1M177.5 211v2M178.5 209v2M179.5 207v2M180.5 206v1M181.5 207v1M182.5 208v1M183.5 209v1M184.5 210v1M185.5 211v2M186.5 213v2M187.5 215v2M188.5 217v2M189.5 219v2M190.5 221v3M191.5 224v2M192.5 226v2M193.5 228v2M194.5 230v1M195.5 231v2M196.5 233v1M197.5 234v2M198.5 236v1M199.5 237v2M200.5 239v1M201.5 240v2M202.5 242v1M203.5 243v2M204.5 245v1M205.5 246v2M206.5 248v1M207.5 249v2M208.5 251v1M209.5 251v1M210.5 251v1M211.5 251v1M212.5 251v1M213.5 252v1M214.5 253v1M215.5 254v1M216.5 255v1M217.5 256v1M218.5 256v1M219.5 257v1M220.5 257v1M221.5 258v1M222.5 258v1M223.5 259v1M224.5 259v1M225.5 259v1M226.5 260v1M227.5 260v1M228.5 260v1M229.5 258v2M230.5 257v1M231.5 255v2M232.5 254v1M233.5 253v1M234.5 251v2M235.5 250v1M236.5 248v2M237.5 245v3M238.5 241v4M239.5 238v3M240.5 235v3M241.5 232v3M242.5 228v4M243.5 225v3M244.5 222v3M245.5 220v2M246.5 217v3M247.5 215v2M248.5 212v3M249.5 208v4M250.5 205v3M251.5 201v4M252.5 198v3M253.5 196v2M254.5 193v3M255.5 191v2M256.5 189v2M257.5 189v1M258.5 190v1M259.5 190v1M260.5 190v1M261.5 190v1M262.5 191v1M263.5 191v1M264.5 191v2M265.5 193v2M266.5 195v3M267.5 198v2M268.5 200v2M269.5 202v2M270.5 204v1M271.5 205v2M272.5 207v1M273.5 208v2M274.5 210v2M275.5 212v2M276.5 214v3M277.5 217v4M278.5 221v3M279.5 224v4M280.5 228v4M281.5 232v5M282.5 237v5M283.5 242v5M284.5 247v4M285.5 251v4M286.5 255v3M287.5 258v4M288.5 262v3M289.5 265v3M290.5 268v3M291.5 271v3M292.5 274v3M293.5 277v2M294.5 279v3M295.5 282v2M296.5 284v3M297.5 287v3M298.5 290v4M299.5 294v3M300.5 297v3M301.5 300v2M302.5 302v2M303.5 304v2M304.5 306v2M305.5 308v1M306.5 309v2M307.5 311v1M308.5 312v1M309.5 311v1M310.5 309v2M311.5 308v1M312.5 307v1M313.5 306v1M314.5 304v2M315.5 303v1M316.5 302v1M317.5 302v1M318.5 301v1M319.5 301v1M320.5 301v1M321.5 299v2M322.5 297v2M323.5 295v2M324.5 294v1M325.5 292v2M326.5 290v2M327.5 288v2M328.5 287v1M329.5 286v1M330.5 285v1M331.5 284v1M332.5 283v1M333.5 281v2M334.5 280v1M335.5 278v2M336.5 277v1M337.5 275v2M338.5 274v1M339.5 272v2M340.5 271v1M341.5 270v1M342.5 268v2M343.5 267v1M344.5 266v1M345.5 265v1M346.5 263v2M347.5 262v1M348.5 261v1M349.5 261v1M350.5 261v1M351.5 261v1M352.5 261v1M353.5 259v2M354.5 258v1M355.5 256v2M356.5 255v1M357.5 253v2M358.5 251v2M359.5 249v2M360.5 248v1M361.5 247v1M362.5 246v1M363.5 246v1M364.5 245v1M365.5 244v1M366.5 243v1M367.5 243v1M368.5 242v1M369.5 241v1M370.5 239v2M371.5 238v1M372.5 236v2M373.5 234v2M374.5 231v3M375.5 229v2M376.5 226v3M377.5 222v4M378.5 219v3M379.5 215v4M380.5 212v3M381.5 208v4M382.5 204v4M383.5 200v4M384.5 196v4M385.5 192v4M386.5 189v3M387.5 185v4M388.5 182v3M389.5 178v4M390.5 174v4M391.5 170v4M392.5 165v5M393.5 159v6M394.5 154v5M395.5 148v6M396.5 143v5M397.5 138v5M398.5 133v5M399.5 128v5M400.5 124v4M401.5 120v4M402.5 116v4M403.5 112v4M404.5 108v4M405.5 106v2M406.5 103v3M407.5 101v2M408.5 99v2M409.5 98v1M410.5 96v2M411.5 95v1M412.5 94v1M413.5 92v2M414.5 91v1M415.5 89v2M416.5 88v1M417.5 87v1M418.5 85v2M419.5 84v1M420.5 83v1M421.5 84v1M422.5 85v1M423.5 86v1M424.5 87v1M425.5 87v1M426.5 88v1M427.5 88v1M428.5 88v1M429.5 89v1M430.5 90v1M431.5 90v1M432.5 91v1M433.5 92v1M434.5 93v1M435.5 93v1M436.5 94v1M437.5 95v1M438.5 96v1M439.5 96v1M440.5 97v1M441.5 97v1M442.5 97v1M443.5 97v1M444.5 97v1M445.5 96v1M446.5 96v1M447.5 95v1M448.5 95v1M449.5 96v1M450.5 96v1M451.5 97v1M452.5 97v2M453.5 99v2M454.5 101v2M455.5 103v2M456.5 105v2M457.5 107v2M458.5 109v2M459.5 111v2M460.5 113v3M461.5 116v4M462.5 120v3M463.5 123v4M464.5 127v3M465.5 130v3M466.5 133v2M467.5 135v3M468.5 138v3M469.5 141v4M470.5 145v3M471.5 148v4M472.5 152v3M473.5 155v3M474.5 158v4M475.5 162v3M476.5 165v2M477.5 167v1M478.5 168v2M479.5 170v1M480.5 171v1M481.5 172v1M482.5 172v1M483.5 173v1M484.5 173v1M485.5 174v1M486.5 174v1M487.5 175v1M488.5 175v1M489.5 173v2M490.5 171v2M491.5 169v2M492.5 168v1M493.5 168v1M494.5 168v1M495.5 168v1M496.5 168v1M497.5 169v2M498.5 171v1M499.5 172v2M500.5 174v2M501.5 176v3M502.5 179v2M503.5 181v3M504.5 184v3M505.5 187v3M506.5 190v2M507.5 192v3M508.5 195v2M509.5 197v2M510.5 199v2M511.5 201v2M512.5 203v2M513.5 205v1M514.5 205v1M515.5 206v1M516.5 206v1M517.5 207v1M518.5 208v1M519.5 209v1M520.5 210v1M521.5 211v1M522.5 211v1M523.5 212v1M524.5 212v1M525.5 213v1M526.5 214v1M527.5 214v1M528.5 215v1M529.5 216v1M530.5 216v1M531.5 217v1M532.5 217v2M533.5 219v3M534.5 222v3M535.5 225v3M536.5 228v3M537.5 231v4M538.5 235v3M539.5 238v4M540.5 242v4M541.5 246v4M542.5 250v4M543.5 254v4M544.5 258v5M545.5 263v5M546.5 268v5M547.5 273v5M548.5 278v6M549.5 284v6M550.5 290v7M551.5 297v6M552.5 303v5M553.5 308v3M554.5 311v4M555.5 315v3M556.5 318v3M557.5 321v3M558.5 324v3M559.5 327v3M560.5 330v2M561.5 331v1M562.5 331v1M563.5 331v1M564.5 331v1M565.5 330v1M566.5 329v1M567.5 329v1M568.5 328v1M569.5 328v1M570.5 329v1M571.5 329v1M572.5 328v2M573.5 326v2M574.5 323v3M575.5 321v2M576.5 318v3M577.5 314v4M578.5 310v4M579.5 306v4M580.5 303v3M581.5 301v2M582.5 298v3M583.5 296v2M584.5 293v3M585.5 289v4M586.5 286v3M587.5 282v4M588.5 280v2M589.5 280v1M590.5 279v1M591.5 279v1M592.5 279v3M593.5 282v4M594.5 286v5M595.5 291v4M596.5 295v5M597.5 300v5M598.5 305v5M599.5 310v5M600.5 315v6M601.5 321v8M602.5 329v7M603.5 336v8M604.5 344v8M605.5 352v8M606.5 360v8M607.5 368v8M608.5 376v8M609.5 384v7M610.5 391v8M611.5 399v7M612.5 406v7M613.5 413v7M614.5 420v8M615.5 428v7M616.5 435v6M617.5 441v5M618.5 446v4M619.5 450v5M620.5 455v3M621.5 458v2M622.5 460v2M623.5 462v2M624.5 464v1M625.5 463v1M626.5 462v1M627.5 461v1M628.5 459v2M629.5 455v4M630.5 452v3M631.5 448v4M632.5 444v4M633.5 440v4M634.5 436v4M635.5 432v4M636.5 428v4M637.5 425v3M638.5 421v4M639.5 418v3M640.5 415v3M641.5 413v2M642.5 411v2M643.5 409v2M644.5 405v4M645.5 400v5M646.5 396v4M647.5 391v5M648.5 386v5M649.5 381v5M650.5 377v4M651.5 372v5M652.5 367v5M653.5 363v4M654.5 358v5M655.5 354v4M656.5 351v3M657.5 349v2M658.5 347v2M659.5 345v2M660.5 343v2M661.5 342v1M662.5 341v1M663.5 341v1M664.5 340v1M665.5 338v2M666.5 337v1M667.5 335v2M668.5 334v1M669.5 334v1M670.5 334v1M671.5 334v1M672.5 334v2M673.5 336v2M674.5 338v3M675.5 341v2M676.5 343v3M677.5 346v2M678.5 348v2M679.5 350v2M680.5 352v2M681.5 354v2M682.5 356v2M683.5 358v2M684.5 360v2M685.5 362v2M686.5 364v2M687.5 366v2M688.5 368v2M689.5 370v2M690.5 372v2M691.5 374v2M692.5 376v2M693.5 378v2M694.5 380v3M695.5 383v2M696.5 385v2M697.5 387v1M698.5 387v1M699.5 388v1M700.5 388v1M701.5 389v1M702.5 389v1M703.5 390v1M704.5 390v1M705.5 390v1M706.5 389v1M707.5 389v1M708.5 389v1M709.5 390v1M710.5 391v1M711.5 392v1M712.5 393v1M713.5 391v2M714.5 390v1M715.5 388v2M716.5 386v2M717.5 382v4M718.5 379v3M719.5 375v4M720.5 372v3M721.5 368v4M722.5 365v3M723.5 361v4M724.5 358v3M725.5 356v2M726.5 353v3M727.5 351v2M728.5 348v3M729.5 346v2M730.5 344v2M731.5 342v2M732.5 339v3M733.5 336v3M734.5 334v2M735.5 331v3M736.5 329v2M737.5 327v2M738.5 325v2M739.5 323v2M740.5 322v2M741.5 324v3M742.5 327v2M743.5 329v3M744.5 332v3M745.5 335v4M746.5 339v3M747.5 342v4M748.5 346v5M749.5 351v7M750.5 358v8M751.5 366v7M752.5 373v6M753.5 379v5M754.5 384v4M755.5 388v5M756.5 393v5M757.5 398v5M758.5 403v4M759.5 407v5M760.5 412v6M761.5 418v6M762.5 424v6M763.5 430v6M764.5 436v6M765.5 442v6M766.5 448v5M767.5 453v6M768.5 459v4M769.5 463v3M770.5 466v4M771.5 470v3M772.5 473v4M773.5 477v4M774.5 481v4M775.5 485v4M776.5 489v3M777.5 489v2M778.5 487v2M779.5 485v2M780.5 484v1M781.5 485v1M782.5 486v1M783.5 486v1M784.5 487v1M785.5 486v1M786.5 486v1M787.5 485v1M788.5 485v1M789.5 484v1M790.5 482v2M791.5 481v1M792.5 479v2M793.5 477v2M794.5 475v2M795.5 473v2M796.5 470v3M797.5 467v3M798.5 463v4M799.5 460v3M800.5 457v3M801.5 454v3M802.5 452v2M803.5 449v3M804.5 447v2M805.5 445v2M806.5 443v2M807.5 441v2M808.5 439v2M809.5 436v3M810.5 432v4M811.5 429v3M812.5 427v2M813.5 428v1M814.5 428v1M815.5 429v1M816.5 429v1M817.5 430v2M818.5 432v2M819.5 434v2M820.5 436v1M821.5 436v1M822.5 436v1M823.5 436v1M824.5 436v1M825.5 436v1M826.5 436v1M827.5 436v1M828.5 436v1M829.5 435v1M830.5 434v1M831.5 433v1M832.5 432v1M833.5 431v1M834.5 430v1M835.5 429v1M836.5 427v2M837.5 425v2M838.5 423v2M839.5 421v2M840.5 417v4M841.5 412v5M842.5 408v4M843.5 403v5M844.5 398v5M845.5 393v5M846.5 387v6M847.5 382v5M848.5 378v4M849.5 376v2M850.5 373v3M851.5 371v2M852.5 369v2M853.5 369v1M854.5 370v1M855.5 370v1M856.5 370v1M857.5 368v2M858.5 367v1M859.5 365v2M860.5 364v1M861.5 363v1M862.5 362v1M863.5 362v1M864.5 361v1M865.5 362v1M866.5 363v1M867.5 363v1M868.5 364v1M869.5 363v1M870.5 362v1M871.5 361v1M872.5 360v1M873.5 360v1M874.5 359v1M875.5 359v1M876.5 359v1M877.5 357v2M878.5 355v2M879.5 353v2M880.5 350v3M881.5 347v3M882.5 343v4M883.5 340v3M884.5 338v2M885.5 336v2M886.5 335v1M887.5 333v2M888.5 332v1M889.5 333v1M890.5 333v1M891.5 334v1M892.5 334v1M893.5 332v2M894.5 331v1M895.5 329v2M896.5 328v1M897.5 328v1M898.5 328v1M899.5 328v1M900.5 328v1M901.5 326v2M902.5 324v2M903.5 322v2M904.5 321v1M905.5 321v1M906.5 322v1M907.5 322v1M908.5 322v1M909.5 322v1M910.5 321v1M911.5 321v1M912.5 321v1M913.5 321v1M914.5 320v1M915.5 320v1M916.5 320v1M917.5 319v1M918.5 318v1M919.5 318v1M920.5 317v2M921.5 319v2M922.5 321v2M923.5 323v2M924.5 325v2M925.5 326v1M926.5 327v1M927.5 327v1M928.5 327v1M929.5 328v1M930.5 329v1M931.5 330v1M932.5 331v1M933.5 332v1M934.5 333v1M935.5 333v1M936.5 334v1M937.5 334v1M938.5 335v1M939.5 335v1M940.5 335v1M941.5 333v2M942.5 331v2M943.5 329v2M944.5 328v1M945.5 327v1M946.5 326v1M947.5 325v1M948.5 323v2M949.5 319v4M950.5 316v3M951.5 312v4M952.5 310v2M953.5 308v2M954.5 306v2M955.5 304v2M956.5 302v2M957.5 302v1M958.5 301v1M959.5 301v1M960.5 301v1M961.5 300v1M962.5 299v1M963.5 298v1M964.5 297v1M965.5 296v1M966.5 294v2M967.5 293v1M968.5 292v1M969.5 293v2M970.5 295v1M971.5 296v2M972.5 298v1M973.5 298v1M974.5 297v1M975.5 297v1M976.5 297v1M977.5 297v1M978.5 298v1M979.5 298v1M980.5 298v1M981.5 298v1M982.5 299v1M983.5 299v1M984.5 299v1M985.5 298v1M986.5 296v2M987.5 295v1M988.5 294v1M989.5 293v1M990.5 291v2M991.5 290v1M992.5 289v1M993.5 288v1M994.5 287v1M995.5 286v1M996.5 285v1M997.5 284v1M998.5 284v1M999.5 283v1M1000.5 283v1M1001.5 284v2M1002.5 286v2M1003.5 288v2M1004.5 290v2M1005.5 292v4M1006.5 296v3M1007.5 299v4M1008.5 303v3M1009.5 306v4M1010.5 310v4M1011.5 314v4M1012.5 318v3M1013.5 321v4M1014.5 325v4M1015.5 329v4M1016.5 333v3M1017.5 336v2M1018.5 338v3M1019.5 341v2M1020.5 343v3M1021.5 346v2M1022.5 348v3M1023.5 351v2M1024.5 353v2M1025.5 355v1M1026.5 356v1M1027.5 356v1M1028.5 356v2M1029.5 354v2M1030.5 352v2M1031.5 350v2M1032.5 347v3M1033.5 344v3M1034.5 342v2M1035.5 339v3M1036.5 336v3M1037.5 333v3M1038.5 330v3M1039.5 327v3M1040.5 324v3M1041.5 322v2M1042.5 319v3M1043.5 317v2M1044.5 315v2M1045.5 315v1M1046.5 316v1M1047.5 316v1M1048.5 316v1M1049.5 317v1M1050.5 318v1M1051.5 319v1M1052.5 320v2M1053.5 322v2M1054.5 324v2M1055.5 326v2M1056.5 328v3M1057.5 331v2M1058.5 333v3M1059.5 336v2M1060.5 338v2M1061.5 340v2M1062.5 342v2M1063.5 344v2M1064.5 346v2M1065.5 348v1M1066.5 349v1M1067.5 349v1M1068.5 350v1M1069.5 351v1M1070.5 351v1M1071.5 352v1M1072.5 352v1M1073.5 350v2M1074.5 348v2M1075.5 346v2M1076.5 344v2M1077.5 340v4M1078.5 337v3M1079.5 333v4M1080.5 330v3M1081.5 326v4M1082.5 323v3M1083.5 319v4M1084.5 316v3M1085.5 314v2M1086.5 312v2M1087.5 310v2M1088.5 308v2M1089.5 306v2M1090.5 305v1M1091.5 303v2M1092.5 302v1M1093.5 303v1M1094.5 304v1M1095.5 305v1M1096.5 306v1M1097.5 307v1M1098.5 308v1M1099.5 309v1M1100.5 310v1M1101.5 311v2M1102.5 313v1M1103.5 314v2M1104.5 316v2M1105.5 318v2M1106.5 320v3M1107.5 323v2M1108.5 325v3M1109.5 328v2M1110.5 330v3M1111.5 333v2M1112.5 335v2M1113.5 337v1M1114.5 338v1M1115.5 339v1M1116.5 340v1M1117.5 341v1M1118.5 342v1M1119.5 342v1M1120.5 343v1M1121.5 342v1M1122.5 341v1M1123.5 340v1M1124.5 339v1M1125.5 337v2M1126.5 336v1M1127.5 334v2M1128.5 333v1" stroke="#0000e6" stroke-width="1" fill="none" shape-rendering="crispEdges"/>
<rect x="4" y="43" width="1415" height="3" fill="#ff0000"/>
<rect x="4" y="147" width="1415" height="3" fill="#ff0000"/>
<rect x="4" y="269" width="1415" height="3" fill="#00ff00"/>
<rect x="4" y="424" width="1415" height="3" fill="#0000ff"/>
<rect x="4" y="511" width="1415" height="3" fill="#0000ff"/>
</g>
<rect x="3" y="41" width="7" height="7" fill="#ff0000"/>
<rect x="6" y="44" width="1" height="1" fill="#fff"/>
<rect x="1413" y="41" width="7" height="7" fill="#ff0000"/>
<rect x="1416" y="44" width="1" height="1" fill="#fff"/>
<rect x="3" y="145" width="7" height="7" fill="#ff0000"/>
<rect x="6" y="148" width="1" height="1" fill="#fff"/>
<rect x="1413" y="145" width="7" height="7" fill="#ff0000"/>
<rect x="1416" y="148" width="1" height="1" fill="#fff"/>
<rect x="3" y="267" width="7" height="7" fill="#00ff00"/>
<rect x="6" y="270" width="1" height="1" fill="#fff"/>
<rect x="1413" y="267" width="7" height="7" fill="#00ff00"/>
<rect x="1416" y="270" width="1" height="1" fill="#fff"/>
<rect x="5" y="38" width="223" height="69" fill="#ffffff"/>
<rect x="7" y="41" width="52" height="24" fill="url(#rg1)"/>
<rect x="174" y="41" width="52" height="24" fill="url(#rg1)"/>
<rect x="7" y="65" width="109" height="40" fill="url(#rg2)"/>
<rect x="118" y="65" width="108" height="40" fill="url(#rg2)"/>
<rect x="7" y="41" width="52" height="1" fill="#c81414"/>
<rect x="174" y="41" width="52" height="1" fill="#c81414"/>
<rect x="7" y="41" width="1" height="64" fill="#c01010"/>
<rect x="225" y="41" width="1" height="64" fill="#c01010"/>
<rect x="58" y="41" width="1" height="24" fill="#c01010"/>
<rect x="174" y="41" width="1" height="24" fill="#c01010"/>
<rect x="7" y="104" width="109" height="1" fill="#a00000"/>
<rect x="118" y="104" width="108" height="1" fill="#a00000"/>
<rect x="115" y="65" width="1" height="40" fill="#b00808"/>
<rect x="118" y="65" width="1" height="40" fill="#b00808"/>
<rect x="59" y="65" width="57" height="1" fill="#c01010"/>
<rect x="118" y="65" width="56" height="1" fill="#c01010"/>
<rect x="11" y="64" width="44" height="1" fill="#8c0000"/>
<rect x="11" y="65" width="44" height="1" fill="#ec6a6a"/>
<rect x="178" y="64" width="44" height="1" fill="#8c0000"/>
<rect x="178" y="65" width="44" height="1" fill="#ec6a6a"/>
<text x="19.5" y="57" font-size="12.5" fill="#fff" textLength="25.50" lengthAdjust="spacingAndGlyphs" xml:space="preserve">SELL</text>
<text x="187.3" y="57" font-size="12.5" fill="#fff" textLength="23.50" lengthAdjust="spacingAndGlyphs" xml:space="preserve">BUY</text>
<text x="26.8" y="95.6" font-size="11" fill="#fff" font-weight="bold" textLength="24.00" lengthAdjust="spacingAndGlyphs" xml:space="preserve">0.99</text>
<text x="136.8" y="95.6" font-size="11" fill="#fff" font-weight="bold" textLength="24.00" lengthAdjust="spacingAndGlyphs" xml:space="preserve">0.99</text>
<text x="54.3" y="96.4" font-size="35" fill="#fff" textLength="35.20" lengthAdjust="spacingAndGlyphs" stroke="url(#rgu)" stroke-width="0.8" xml:space="preserve">35</text>
<text x="165.3" y="96.4" font-size="35" fill="#fff" textLength="35.80" lengthAdjust="spacingAndGlyphs" stroke="url(#rgu)" stroke-width="0.8" xml:space="preserve">38</text>
<text x="94" y="80" font-size="12" fill="#fff" font-weight="bold" textLength="6.50" lengthAdjust="spacingAndGlyphs" xml:space="preserve">7</text>
<text x="205.3" y="80" font-size="12" fill="#fff" font-weight="bold" textLength="6.50" lengthAdjust="spacingAndGlyphs" xml:space="preserve">2</text>
<rect x="61" y="41" width="111" height="22" fill="#a8acb8"/>
<rect x="62" y="42" width="109" height="20" fill="#ffffff"/>
<rect x="62" y="42" width="20" height="20" fill="url(#bg)"/>
<rect x="151" y="42" width="20" height="20" fill="url(#bg)"/>
<rect x="82" y="42" width="1" height="20" fill="#a8acb8"/>
<rect x="150" y="42" width="1" height="20" fill="#a8acb8"/>
<rect x="62" y="42" width="20" height="1" fill="#fff"/>
<rect x="62" y="42" width="1" height="20" fill="#fff"/>
<rect x="151" y="42" width="20" height="1" fill="#fff"/>
<rect x="151" y="42" width="1" height="20" fill="#fff"/>
<path d="M68.5 50 L74.5 50 L71.5 53.5 Z" fill="#5468b8"/>
<path d="M157.5 53.5 L163.5 53.5 L160.5 50 Z" fill="#5468b8"/>
<text x="123.6" y="56.3" font-size="12.5" fill="#000" textLength="23.50" lengthAdjust="spacingAndGlyphs" xml:space="preserve">1.00</text>
<path d="M7 32.5 L14.5 32.5 L10.75 27.5 Z" fill="#000"/>
<text x="19.5" y="33" font-size="9.6" fill="#000" textLength="66.80" lengthAdjust="spacingAndGlyphs" stroke="#000" stroke-width="0.12" xml:space="preserve">USDCHF-,Daily</text>
<text x="93" y="33" font-size="9.6" fill="#000" textLength="32.30" lengthAdjust="spacingAndGlyphs" stroke="#000" stroke-width="0.12" xml:space="preserve">0.99270</text>
<text x="129" y="33" font-size="9.6" fill="#000" textLength="32.30" lengthAdjust="spacingAndGlyphs" stroke="#000" stroke-width="0.12" xml:space="preserve">0.99375</text>
<text x="165" y="33" font-size="9.6" fill="#000" textLength="32.30" lengthAdjust="spacingAndGlyphs" stroke="#000" stroke-width="0.12" xml:space="preserve">0.99266</text>
<text x="201" y="33" font-size="9.6" fill="#000" textLength="32.30" lengthAdjust="spacingAndGlyphs" stroke="#000" stroke-width="0.12" xml:space="preserve">0.99357</text>
<rect x="1420" y="30" width="2" height="1" fill="#000"/>
<text x="1425.5" y="34" font-size="9.6" fill="#000" textLength="32.50" lengthAdjust="spacingAndGlyphs" stroke="#000" stroke-width="0.12" xml:space="preserve">1.02570</text>
<rect x="1420" y="63" width="2" height="1" fill="#000"/>
<text x="1425.5" y="67" font-size="9.6" fill="#000" textLength="32.50" lengthAdjust="spacingAndGlyphs" stroke="#000" stroke-width="0.12" xml:space="preserve">1.02190</text>
<rect x="1420" y="96" width="2" height="1" fill="#000"/>
<text x="1425.5" y="100" font-size="9.6" fill="#000" textLength="32.50" lengthAdjust="spacingAndGlyphs" stroke="#000" stroke-width="0.12" xml:space="preserve">1.01810</text>
<rect x="1420" y="129" width="2" height="1" fill="#000"/>
<text x="1425.5" y="133" font-size="9.6" fill="#000" textLength="32.50" lengthAdjust="spacingAndGlyphs" stroke="#000" stroke-width="0.12" xml:space="preserve">1.01430</text>
<rect x="1420" y="162" width="2" height="1" fill="#000"/>
<text x="1425.5" y="166" font-size="9.6" fill="#000" textLength="32.50" lengthAdjust="spacingAndGlyphs" stroke="#000" stroke-width="0.12" xml:space="preserve">1.01050</text>
<rect x="1420" y="195" width="2" height="1" fill="#000"/>
<text x="1425.5" y="199" font-size="9.6" fill="#000" textLength="32.50" lengthAdjust="spacingAndGlyphs" stroke="#000" stroke-width="0.12" xml:space="preserve">1.00660</text>
<rect x="1420" y="228" width="2" height="1" fill="#000"/>
<text x="1425.5" y="232" font-size="9.6" fill="#000" textLength="32.50" lengthAdjust="spacingAndGlyphs" stroke="#000" stroke-width="0.12" xml:space="preserve">1.00280</text>
<rect x="1420" y="261" width="2" height="1" fill="#000"/>
<text x="1425.5" y="265" font-size="9.6" fill="#000" textLength="32.50" lengthAdjust="spacingAndGlyphs" stroke="#000" stroke-width="0.12" xml:space="preserve">0.99900</text>
<rect x="1420" y="294" width="2" height="1" fill="#000"/>
<text x="1425.5" y="298" font-size="9.6" fill="#000" textLength="32.50" lengthAdjust="spacingAndGlyphs" stroke="#000" stroke-width="0.12" xml:space="preserve">0.99520</text>
<rect x="1420" y="327" width="2" height="1" fill="#000"/>
<text x="1425.5" y="331" font-size="9.6" fill="#000" textLength="32.50" lengthAdjust="spacingAndGlyphs" stroke="#000" stroke-width="0.12" xml:space="preserve">0.99140</text>
<rect x="1420" y="360" width="2" height="1" fill="#000"/>
<text x="1425.5" y="364" font-size="9.6" fill="#000" textLength="32.50" lengthAdjust="spacingAndGlyphs" stroke="#000" stroke-width="0.12" xml:space="preserve">0.98760</text>
<rect x="1420" y="393" width="2" height="1" fill="#000"/>
<text x="1425.5" y="397" font-size="9.6" fill="#000" textLength="32.50" lengthAdjust="spacingAndGlyphs" stroke="#000" stroke-width="0.12" xml:space="preserve">0.98380</text>
<rect x="1420" y="459" width="2" height="1" fill="#000"/>
<text x="1425.5" y="463" font-size="9.6" fill="#000" textLength="32.50" lengthAdjust="spacingAndGlyphs" stroke="#000" stroke-width="0.12" xml:space="preserve">0.97610</text>
<rect x="1420" y="492" width="2" height="1" fill="#000"/>
<text x="1425.5" y="496" font-size="9.6" fill="#000" textLength="32.50" lengthAdjust="spacingAndGlyphs" stroke="#000" stroke-width="0.12" xml:space="preserve">0.97230</text>
<rect x="1420" y="525" width="2" height="1" fill="#000"/>
<text x="1425.5" y="529" font-size="9.6" fill="#000" textLength="32.50" lengthAdjust="spacingAndGlyphs" stroke="#000" stroke-width="0.12" xml:space="preserve">0.96850</text>
<rect x="1420" y="558" width="2" height="1" fill="#000"/>
<text x="1425.5" y="562" font-size="9.6" fill="#000" textLength="32.50" lengthAdjust="spacingAndGlyphs" stroke="#000" stroke-width="0.12" xml:space="preserve">0.96470</text>
<rect x="1421" y="38" width="41" height="11" fill="#ff0000"/>
<text x="1425.5" y="47" font-size="9.6" fill="#fff" textLength="32.50" lengthAdjust="spacingAndGlyphs" stroke="#fff" stroke-width="0.12" xml:space="preserve">1.02406</text>
<rect x="1421" y="142" width="41" height="11" fill="#ff0000"/>
<text x="1425.5" y="151" font-size="9.6" fill="#fff" textLength="32.50" lengthAdjust="spacingAndGlyphs" stroke="#fff" stroke-width="0.12" xml:space="preserve">1.01206</text>
<rect x="1421" y="264" width="41" height="11" fill="#00ff00"/>
<text x="1425.5" y="273" font-size="9.6" fill="#fff" textLength="32.50" lengthAdjust="spacingAndGlyphs" stroke="#fff" stroke-width="0.12" xml:space="preserve">0.99798</text>
<rect x="1421" y="303" width="41" height="11" fill="#000000"/>
<text x="1425.5" y="312" font-size="9.6" fill="#fff" textLength="32.50" lengthAdjust="spacingAndGlyphs" stroke="#fff" stroke-width="0.12" xml:space="preserve">0.99357</text>
<rect x="1421" y="419" width="41" height="11" fill="#0000ff"/>
<text x="1425.5" y="428" font-size="9.6" fill="#fff" textLength="32.50" lengthAdjust="spacingAndGlyphs" stroke="#fff" stroke-width="0.12" xml:space="preserve">0.98009</text>
<rect x="1421" y="506" width="41" height="11" fill="#0000ff"/>
<text x="1425.5" y="515" font-size="9.6" fill="#fff" textLength="32.50" lengthAdjust="spacingAndGlyphs" stroke="#fff" stroke-width="0.12" xml:space="preserve">0.97006</text>
<g clip-path="url(#c2)" shape-rendering="crispEdges">
<rect x="4" y="610" width="1" height="14" fill="#c0c0c0"/>
<rect x="8" y="610" width="1" height="17" fill="#c0c0c0"/>
<rect x="12" y="610" width="1" height="20" fill="#c0c0c0"/>
<rect x="16" y="610" width="1" height="22" fill="#c0c0c0"/>
<rect x="20" y="610" width="1" height="20" fill="#c0c0c0"/>
<rect x="24" y="610" width="1" height="18" fill="#c0c0c0"/>
<rect x="28" y="610" width="1" height="18" fill="#c0c0c0"/>
<rect x="32" y="610" width="1" height="17" fill="#c0c0c0"/>
<rect x="36" y="610" width="1" height="21" fill="#c0c0c0"/>
<rect x="40" y="610" width="1" height="22" fill="#c0c0c0"/>
<rect x="44" y="610" width="1" height="27" fill="#c0c0c0"/>
<rect x="48" y="610" width="1" height="25" fill="#c0c0c0"/>
<rect x="52" y="610" width="1" height="22" fill="#c0c0c0"/>
<rect x="56" y="610" width="1" height="20" fill="#c0c0c0"/>
<rect x="60" y="610" width="1" height="20" fill="#c0c0c0"/>
<rect x="64" y="610" width="1" height="16" fill="#c0c0c0"/>
<rect x="68" y="610" width="1" height="11" fill="#c0c0c0"/>
<rect x="72" y="610" width="1" height="5" fill="#c0c0c0"/>
<rect x="76" y="610" width="1" height="1" fill="#c0c0c0"/>
<rect x="80" y="606" width="1" height="5" fill="#c0c0c0"/>
<rect x="84" y="601" width="1" height="10" fill="#c0c0c0"/>
<rect x="88" y="598" width="1" height="13" fill="#c0c0c0"/>
<rect x="92" y="597" width="1" height="14" fill="#c0c0c0"/>
<rect x="96" y="595" width="1" height="16" fill="#c0c0c0"/>
<rect x="100" y="596" width="1" height="15" fill="#c0c0c0"/>
<rect x="104" y="597" width="1" height="14" fill="#c0c0c0"/>
<rect x="108" y="599" width="1" height="12" fill="#c0c0c0"/>
<rect x="112" y="598" width="1" height="13" fill="#c0c0c0"/>
<rect x="116" y="598" width="1" height="13" fill="#c0c0c0"/>
<rect x="120" y="599" width="1" height="12" fill="#c0c0c0"/>
<rect x="124" y="598" width="1" height="13" fill="#c0c0c0"/>
<rect x="128" y="598" width="1" height="13" fill="#c0c0c0"/>
<rect x="132" y="596" width="1" height="15" fill="#c0c0c0"/>
<rect x="136" y="594" width="1" height="17" fill="#c0c0c0"/>
<rect x="140" y="592" width="1" height="19" fill="#c0c0c0"/>
<rect x="144" y="589" width="1" height="22" fill="#c0c0c0"/>
<rect x="148" y="589" width="1" height="22" fill="#c0c0c0"/>
<rect x="152" y="590" width="1" height="21" fill="#c0c0c0"/>
<rect x="156" y="588" width="1" height="23" fill="#c0c0c0"/>
<rect x="160" y="585" width="1" height="26" fill="#c0c0c0"/>
<rect x="164" y="582" width="1" height="29" fill="#c0c0c0"/>
<rect x="168" y="582" width="1" height="29" fill="#c0c0c0"/>
<rect x="172" y="582" width="1" height="29" fill="#c0c0c0"/>
<rect x="176" y="583" width="1" height="28" fill="#c0c0c0"/>
<rect x="180" y="584" width="1" height="27" fill="#c0c0c0"/>
<rect x="184" y="587" width="1" height="24" fill="#c0c0c0"/>
<rect x="188" y="591" width="1" height="20" fill="#c0c0c0"/>
<rect x="192" y="593" width="1" height="18" fill="#c0c0c0"/>
<rect x="196" y="595" width="1" height="16" fill="#c0c0c0"/>
<rect x="200" y="598" width="1" height="13" fill="#c0c0c0"/>
<rect x="204" y="599" width="1" height="12" fill="#c0c0c0"/>
<rect x="208" y="601" width="1" height="10" fill="#c0c0c0"/>
<rect x="212" y="602" width="1" height="9" fill="#c0c0c0"/>
<rect x="216" y="605" width="1" height="6" fill="#c0c0c0"/>
<rect x="220" y="606" width="1" height="5" fill="#c0c0c0"/>
<rect x="224" y="607" width="1" height="4" fill="#c0c0c0"/>
<rect x="228" y="608" width="1" height="3" fill="#c0c0c0"/>
<rect x="232" y="606" width="1" height="5" fill="#c0c0c0"/>
<rect x="236" y="604" width="1" height="7" fill="#c0c0c0"/>
<rect x="240" y="599" width="1" height="12" fill="#c0c0c0"/>
<rect x="244" y="597" width="1" height="14" fill="#c0c0c0"/>
<rect x="248" y="595" width="1" height="16" fill="#c0c0c0"/>
<rect x="252" y="593" width="1" height="18" fill="#c0c0c0"/>
<rect x="256" y="593" width="1" height="18" fill="#c0c0c0"/>
<rect x="260" y="595" width="1" height="16" fill="#c0c0c0"/>
<rect x="264" y="597" width="1" height="14" fill="#c0c0c0"/>
<rect x="268" y="600" width="1" height="11" fill="#c0c0c0"/>
<rect x="272" y="602" width="1" height="9" fill="#c0c0c0"/>
<rect x="276" y="604" width="1" height="7" fill="#c0c0c0"/>
<rect x="280" y="607" width="1" height="4" fill="#c0c0c0"/>
<rect x="284" y="610" width="1" height="4" fill="#c0c0c0"/>
<rect x="288" y="610" width="1" height="9" fill="#c0c0c0"/>
<rect x="292" y="610" width="1" height="11" fill="#c0c0c0"/>
<rect x="296" y="610" width="1" height="13" fill="#c0c0c0"/>
<rect x="300" y="610" width="1" height="16" fill="#c0c0c0"/>
<rect x="304" y="610" width="1" height="17" fill="#c0c0c0"/>
<rect x="308" y="610" width="1" height="17" fill="#c0c0c0"/>
<rect x="312" y="610" width="1" height="16" fill="#c0c0c0"/>
<rect x="316" y="610" width="1" height="15" fill="#c0c0c0"/>
<rect x="320" y="610" width="1" height="14" fill="#c0c0c0"/>
<rect x="324" y="610" width="1" height="12" fill="#c0c0c0"/>
<rect x="328" y="610" width="1" height="10" fill="#c0c0c0"/>
<rect x="332" y="610" width="1" height="9" fill="#c0c0c0"/>
<rect x="336" y="610" width="1" height="6" fill="#c0c0c0"/>
<rect x="340" y="610" width="1" height="4" fill="#c0c0c0"/>
<rect x="344" y="610" width="1" height="3" fill="#c0c0c0"/>
<rect x="348" y="610" width="1" height="2" fill="#c0c0c0"/>
<rect x="352" y="610" width="1" height="1" fill="#c0c0c0"/>
<rect x="356" y="610" width="1" height="1" fill="#c0c0c0"/>
<rect x="360" y="607" width="1" height="4" fill="#c0c0c0"/>
<rect x="364" y="606" width="1" height="5" fill="#c0c0c0"/>
<rect x="368" y="605" width="1" height="6" fill="#c0c0c0"/>
<rect x="372" y="603" width="1" height="8" fill="#c0c0c0"/>
<rect x="376" y="600" width="1" height="11" fill="#c0c0c0"/>
<rect x="380" y="596" width="1" height="15" fill="#c0c0c0"/>
<rect x="384" y="590" width="1" height="21" fill="#c0c0c0"/>
<rect x="388" y="586" width="1" height="25" fill="#c0c0c0"/>
<rect x="392" y="583" width="1" height="28" fill="#c0c0c0"/>
<rect x="396" y="577" width="1" height="34" fill="#c0c0c0"/>
<rect x="400" y="574" width="1" height="37" fill="#c0c0c0"/>
<rect x="404" y="571" width="1" height="40" fill="#c0c0c0"/>
<rect x="408" y="571" width="1" height="40" fill="#c0c0c0"/>
<rect x="412" y="570" width="1" height="41" fill="#c0c0c0"/>
<rect x="416" y="570" width="1" height="41" fill="#c0c0c0"/>
<rect x="420" y="571" width="1" height="40" fill="#c0c0c0"/>
<rect x="424" y="573" width="1" height="38" fill="#c0c0c0"/>
<rect x="428" y="574" width="1" height="37" fill="#c0c0c0"/>
<rect x="432" y="576" width="1" height="35" fill="#c0c0c0"/>
<rect x="436" y="579" width="1" height="32" fill="#c0c0c0"/>
<rect x="440" y="581" width="1" height="30" fill="#c0c0c0"/>
<rect x="444" y="582" width="1" height="29" fill="#c0c0c0"/>
<rect x="448" y="582" width="1" height="29" fill="#c0c0c0"/>
<rect x="452" y="586" width="1" height="25" fill="#c0c0c0"/>
<rect x="456" y="590" width="1" height="21" fill="#c0c0c0"/>
<rect x="460" y="595" width="1" height="16" fill="#c0c0c0"/>
<rect x="464" y="603" width="1" height="8" fill="#c0c0c0"/>
<rect x="468" y="606" width="1" height="5" fill="#c0c0c0"/>
<rect x="472" y="610" width="1" height="1" fill="#c0c0c0"/>
<rect x="480" y="610" width="1" height="1" fill="#c0c0c0"/>
<rect x="484" y="610" width="1" height="1" fill="#c0c0c0"/>
<rect x="488" y="610" width="1" height="3" fill="#c0c0c0"/>
<rect x="492" y="610" width="1" height="3" fill="#c0c0c0"/>
<rect x="496" y="610" width="1" height="4" fill="#c0c0c0"/>
<rect x="500" y="610" width="1" height="9" fill="#c0c0c0"/>
<rect x="504" y="610" width="1" height="13" fill="#c0c0c0"/>
<rect x="508" y="610" width="1" height="16" fill="#c0c0c0"/>
<rect x="512" y="610" width="1" height="16" fill="#c0c0c0"/>
<rect x="516" y="610" width="1" height="15" fill="#c0c0c0"/>
<rect x="520" y="610" width="1" height="13" fill="#c0c0c0"/>
<rect x="524" y="610" width="1" height="12" fill="#c0c0c0"/>
<rect x="528" y="610" width="1" height="15" fill="#c0c0c0"/>
<rect x="532" y="610" width="1" height="18" fill="#c0c0c0"/>
<rect x="536" y="610" width="1" height="24" fill="#c0c0c0"/>
<rect x="540" y="610" width="1" height="29" fill="#c0c0c0"/>
<rect x="544" y="610" width="1" height="31" fill="#c0c0c0"/>
<rect x="548" y="610" width="1" height="34" fill="#c0c0c0"/>
<rect x="552" y="610" width="1" height="39" fill="#c0c0c0"/>
<rect x="556" y="610" width="1" height="40" fill="#c0c0c0"/>
<rect x="560" y="610" width="1" height="41" fill="#c0c0c0"/>
<rect x="564" y="610" width="1" height="40" fill="#c0c0c0"/>
<rect x="568" y="610" width="1" height="36" fill="#c0c0c0"/>
<rect x="572" y="610" width="1" height="34" fill="#c0c0c0"/>
<rect x="576" y="610" width="1" height="29" fill="#c0c0c0"/>
<rect x="580" y="610" width="1" height="25" fill="#c0c0c0"/>
<rect x="584" y="610" width="1" height="21" fill="#c0c0c0"/>
<rect x="588" y="610" width="1" height="17" fill="#c0c0c0"/>
<rect x="592" y="610" width="1" height="18" fill="#c0c0c0"/>
<rect x="596" y="610" width="1" height="26" fill="#c0c0c0"/>
<rect x="600" y="610" width="1" height="34" fill="#c0c0c0"/>
<rect x="604" y="610" width="1" height="41" fill="#c0c0c0"/>
<rect x="608" y="610" width="1" height="48" fill="#c0c0c0"/>
<rect x="612" y="610" width="1" height="51" fill="#c0c0c0"/>
<rect x="616" y="610" width="1" height="51" fill="#c0c0c0"/>
<rect x="620" y="610" width="1" height="52" fill="#c0c0c0"/>
<rect x="624" y="610" width="1" height="52" fill="#c0c0c0"/>
<rect x="628" y="610" width="1" height="49" fill="#c0c0c0"/>
<rect x="632" y="610" width="1" height="41" fill="#c0c0c0"/>
<rect x="636" y="610" width="1" height="36" fill="#c0c0c0"/>
<rect x="640" y="610" width="1" height="32" fill="#c0c0c0"/>
<rect x="644" y="610" width="1" height="29" fill="#c0c0c0"/>
<rect x="648" y="610" width="1" height="21" fill="#c0c0c0"/>
<rect x="652" y="610" width="1" height="16" fill="#c0c0c0"/>
<rect x="656" y="610" width="1" height="10" fill="#c0c0c0"/>
<rect x="660" y="610" width="1" height="5" fill="#c0c0c0"/>
<rect x="664" y="610" width="1" height="5" fill="#c0c0c0"/>
<rect x="668" y="610" width="1" height="3" fill="#c0c0c0"/>
<rect x="672" y="610" width="1" height="5" fill="#c0c0c0"/>
<rect x="676" y="610" width="1" height="7" fill="#c0c0c0"/>
<rect x="680" y="610" width="1" height="8" fill="#c0c0c0"/>
<rect x="684" y="610" width="1" height="7" fill="#c0c0c0"/>
<rect x="688" y="610" width="1" height="6" fill="#c0c0c0"/>
<rect x="692" y="610" width="1" height="9" fill="#c0c0c0"/>
<rect x="696" y="610" width="1" height="10" fill="#c0c0c0"/>
<rect x="700" y="610" width="1" height="11" fill="#c0c0c0"/>
<rect x="704" y="610" width="1" height="12" fill="#c0c0c0"/>
<rect x="708" y="610" width="1" height="11" fill="#c0c0c0"/>
<rect x="712" y="610" width="1" height="10" fill="#c0c0c0"/>
<rect x="716" y="610" width="1" height="6" fill="#c0c0c0"/>
<rect x="724" y="607" width="1" height="4" fill="#c0c0c0"/>
<rect x="728" y="606" width="1" height="5" fill="#c0c0c0"/>
<rect x="732" y="605" width="1" height="6" fill="#c0c0c0"/>
<rect x="736" y="603" width="1" height="8" fill="#c0c0c0"/>
<rect x="740" y="603" width="1" height="8" fill="#c0c0c0"/>
<rect x="744" y="608" width="1" height="3" fill="#c0c0c0"/>
<rect x="748" y="610" width="1" height="1" fill="#c0c0c0"/>
<rect x="752" y="610" width="1" height="11" fill="#c0c0c0"/>
<rect x="756" y="610" width="1" height="15" fill="#c0c0c0"/>
<rect x="760" y="610" width="1" height="19" fill="#c0c0c0"/>
<rect x="764" y="610" width="1" height="23" fill="#c0c0c0"/>
<rect x="768" y="610" width="1" height="26" fill="#c0c0c0"/>
<rect x="772" y="610" width="1" height="29" fill="#c0c0c0"/>
<rect x="776" y="610" width="1" height="33" fill="#c0c0c0"/>
<rect x="780" y="610" width="1" height="31" fill="#c0c0c0"/>
<rect x="784" y="610" width="1" height="30" fill="#c0c0c0"/>
<rect x="788" y="610" width="1" height="28" fill="#c0c0c0"/>
<rect x="792" y="610" width="1" height="25" fill="#c0c0c0"/>
<rect x="796" y="610" width="1" height="21" fill="#c0c0c0"/>
<rect x="800" y="610" width="1" height="17" fill="#c0c0c0"/>
<rect x="804" y="610" width="1" height="16" fill="#c0c0c0"/>
<rect x="808" y="610" width="1" height="12" fill="#c0c0c0"/>
<rect x="812" y="610" width="1" height="8" fill="#c0c0c0"/>
<rect x="816" y="610" width="1" height="10" fill="#c0c0c0"/>
<rect x="820" y="610" width="1" height="13" fill="#c0c0c0"/>
<rect x="824" y="610" width="1" height="11" fill="#c0c0c0"/>
<rect x="828" y="610" width="1" height="8" fill="#c0c0c0"/>
<rect x="832" y="610" width="1" height="6" fill="#c0c0c0"/>
<rect x="836" y="610" width="1" height="1" fill="#c0c0c0"/>
<rect x="840" y="606" width="1" height="5" fill="#c0c0c0"/>
<rect x="844" y="601" width="1" height="10" fill="#c0c0c0"/>
<rect x="848" y="598" width="1" height="13" fill="#c0c0c0"/>
<rect x="852" y="597" width="1" height="14" fill="#c0c0c0"/>
<rect x="856" y="600" width="1" height="11" fill="#c0c0c0"/>
<rect x="860" y="600" width="1" height="11" fill="#c0c0c0"/>
<rect x="864" y="598" width="1" height="13" fill="#c0c0c0"/>
<rect x="868" y="597" width="1" height="14" fill="#c0c0c0"/>
<rect x="872" y="594" width="1" height="17" fill="#c0c0c0"/>
<rect x="876" y="592" width="1" height="19" fill="#c0c0c0"/>
<rect x="880" y="590" width="1" height="21" fill="#c0c0c0"/>
<rect x="884" y="590" width="1" height="21" fill="#c0c0c0"/>
<rect x="888" y="590" width="1" height="21" fill="#c0c0c0"/>
<rect x="892" y="593" width="1" height="18" fill="#c0c0c0"/>
<rect x="896" y="592" width="1" height="19" fill="#c0c0c0"/>
<rect x="900" y="591" width="1" height="20" fill="#c0c0c0"/>
<rect x="904" y="588" width="1" height="23" fill="#c0c0c0"/>
<rect x="908" y="589" width="1" height="22" fill="#c0c0c0"/>
<rect x="912" y="590" width="1" height="21" fill="#c0c0c0"/>
<rect x="916" y="591" width="1" height="20" fill="#c0c0c0"/>
<rect x="920" y="594" width="1" height="17" fill="#c0c0c0"/>
<rect x="924" y="598" width="1" height="13" fill="#c0c0c0"/>
<rect x="928" y="598" width="1" height="13" fill="#c0c0c0"/>
<rect x="932" y="598" width="1" height="13" fill="#c0c0c0"/>
<rect x="936" y="599" width="1" height="12" fill="#c0c0c0"/>
<rect x="940" y="600" width="1" height="11" fill="#c0c0c0"/>
<rect x="944" y="597" width="1" height="14" fill="#c0c0c0"/>
<rect x="948" y="597" width="1" height="14" fill="#c0c0c0"/>
<rect x="952" y="595" width="1" height="16" fill="#c0c0c0"/>
<rect x="956" y="593" width="1" height="18" fill="#c0c0c0"/>
<rect x="960" y="594" width="1" height="17" fill="#c0c0c0"/>
<rect x="964" y="595" width="1" height="16" fill="#c0c0c0"/>
<rect x="968" y="596" width="1" height="15" fill="#c0c0c0"/>
<rect x="972" y="598" width="1" height="13" fill="#c0c0c0"/>
<rect x="976" y="599" width="1" height="12" fill="#c0c0c0"/>
<rect x="980" y="598" width="1" height="13" fill="#c0c0c0"/>
<rect x="984" y="597" width="1" height="14" fill="#c0c0c0"/>
<rect x="988" y="596" width="1" height="15" fill="#c0c0c0"/>
<rect x="992" y="596" width="1" height="15" fill="#c0c0c0"/>
<rect x="996" y="595" width="1" height="16" fill="#c0c0c0"/>
<rect x="1000" y="597" width="1" height="14" fill="#c0c0c0"/>
<rect x="1004" y="603" width="1" height="8" fill="#c0c0c0"/>
<rect x="1008" y="609" width="1" height="2" fill="#c0c0c0"/>
<rect x="1012" y="610" width="1" height="3" fill="#c0c0c0"/>
<rect x="1016" y="610" width="1" height="6" fill="#c0c0c0"/>
<rect x="1020" y="610" width="1" height="7" fill="#c0c0c0"/>
<rect x="1024" y="610" width="1" height="6" fill="#c0c0c0"/>
<rect x="1028" y="610" width="1" height="5" fill="#c0c0c0"/>
<rect x="1032" y="610" width="1" height="2" fill="#c0c0c0"/>
<rect x="1036" y="610" width="1" height="1" fill="#c0c0c0"/>
<rect x="1040" y="610" width="1" height="1" fill="#c0c0c0"/>
<rect x="1044" y="609" width="1" height="2" fill="#c0c0c0"/>
<rect x="1052" y="610" width="1" height="4" fill="#c0c0c0"/>
<rect x="1056" y="610" width="1" height="6" fill="#c0c0c0"/>
<rect x="1060" y="610" width="1" height="9" fill="#c0c0c0"/>
<rect x="1064" y="610" width="1" height="9" fill="#c0c0c0"/>
<rect x="1068" y="610" width="1" height="6" fill="#c0c0c0"/>
<rect x="1072" y="610" width="1" height="5" fill="#c0c0c0"/>
<rect x="1076" y="610" width="1" height="2" fill="#c0c0c0"/>
<rect x="1080" y="609" width="1" height="2" fill="#c0c0c0"/>
<rect x="1084" y="606" width="1" height="5" fill="#c0c0c0"/>
<rect x="1088" y="606" width="1" height="5" fill="#c0c0c0"/>
<rect x="1092" y="606" width="1" height="5" fill="#c0c0c0"/>
<rect x="1096" y="608" width="1" height="3" fill="#c0c0c0"/>
<rect x="1104" y="610" width="1" height="1" fill="#c0c0c0"/>
<rect x="1108" y="610" width="1" height="2" fill="#c0c0c0"/>
<rect x="1112" y="610" width="1" height="3" fill="#c0c0c0"/>
<rect x="1116" y="610" width="1" height="3" fill="#c0c0c0"/>
<rect x="1120" y="610" width="1" height="4" fill="#c0c0c0"/>
<rect x="1124" y="610" width="1" height="2" fill="#c0c0c0"/>
</g>
<path clip-path="url(#c2)" d="M4.5 619v1M5.5 620v1M6.5 620v1M10.5 622v1M11.5 622v1M12.5 622v1M16.5 624v1M17.5 624v1M18.5 625v1M22.5 626v1M23.5 626v1M24.5 626v1M28.5 627v1M29.5 627v1M30.5 627v1M34.5 628v1M35.5 628v1M36.5 628v1M40.5 629v1M41.5 630v1M42.5 630v1M46.5 631v1M47.5 631v1M48.5 631v1M52.5 631v1M53.5 631v1M54.5 631v1M58.5 631v1M59.5 631v1M60.5 631v1M64.5 631v1M65.5 631v1M66.5 631v1M70.5 630v1M71.5 629v1M72.5 629v1M76.5 626v1M77.5 625v1M78.5 624v1M82.5 621v1M83.5 620v1M84.5 619v1M88.5 615v1M89.5 614v1M90.5 613v1M94.5 609v1M95.5 608v1M96.5 607v1M100.5 604v1M101.5 603v1M102.5 602v1M106.5 600v1M107.5 599v1M108.5 599v1M112.5 598v1M113.5 598v1M114.5 597v1M118.5 596v1M119.5 596v1M120.5 596v1M124.5 597v1M125.5 597v1M126.5 597v1M130.5 597v1M131.5 597v1M132.5 597v1M136.5 597v1M137.5 597v1M138.5 596v1M142.5 595v1M143.5 595v1M144.5 595v1M148.5 594v1M149.5 594v1M150.5 593v1M154.5 592v1M155.5 592v1M156.5 592v1M160.5 590v1M161.5 590v1M162.5 589v1M166.5 588v1M167.5 587v1M168.5 587v1M172.5 586v1M173.5 586v1M174.5 585v1M178.5 584v1M179.5 584v1M180.5 584v1M184.5 584v1M185.5 584v1M186.5 584v1M190.5 585v1M191.5 585v1M192.5 585v1M196.5 586v1M197.5 586v1M198.5 587v1M202.5 588v1M203.5 589v1M204.5 589v1M208.5 591v1M209.5 592v1M210.5 593v1M214.5 595v1M215.5 596v1M216.5 596v1M220.5 598v1M221.5 599v1M222.5 599v1M226.5 601v1M227.5 602v1M228.5 602v1M232.5 603v1M233.5 603v1M234.5 603v1M238.5 603v1M239.5 603v1M240.5 603v1M244.5 603v1M245.5 603v1M246.5 602v1M250.5 601v1M251.5 601v1M252.5 601v1M256.5 599v1M257.5 599v1M258.5 598v1M262.5 597v1M263.5 597v1M264.5 597v1M268.5 596v1M269.5 596v1M270.5 596v1M274.5 596v1M275.5 596v1M276.5 596v1M280.5 597v1M281.5 598v1M282.5 599v1M286.5 602v1M287.5 602v1M288.5 603v1M292.5 606v1M293.5 607v1M294.5 608v1M298.5 611v1M299.5 611v1M300.5 612v1M304.5 616v1M305.5 617v1M306.5 617v1M310.5 620v1M311.5 620v1M312.5 621v1M316.5 623v1M317.5 623v1M318.5 624v1M322.5 625v1M323.5 625v1M324.5 625v1M328.5 624v1M329.5 624v1M330.5 624v1M334.5 623v1M335.5 623v1M336.5 623v1M340.5 621v1M341.5 621v1M342.5 620v1M346.5 619v1M347.5 618v1M348.5 618v1M352.5 617v1M353.5 616v1M354.5 616v1M358.5 614v1M359.5 613v1M360.5 613v1M364.5 612v1M365.5 611v1M366.5 611v1M370.5 609v1M371.5 608v1M372.5 608v1M376.5 607v1M377.5 606v1M378.5 606v1M382.5 603v1M383.5 603v1M384.5 602v1M388.5 599v1M389.5 598v1M390.5 597v1M394.5 594v1M395.5 594v1M396.5 593v1M400.5 589v1M401.5 588v1M402.5 587v1M406.5 584v1M407.5 583v1M408.5 582v1M412.5 579v1M413.5 578v1M414.5 577v1M418.5 575v1M419.5 574v1M420.5 574v1M424.5 572v1M425.5 572v1M426.5 571v1M430.5 571v1M431.5 571v1M432.5 571v1M436.5 572v1M437.5 572v1M438.5 573v1M442.5 574v1M443.5 574v1M444.5 574v1M448.5 576v1M449.5 576v1M450.5 577v1M454.5 578v1M455.5 579v1M456.5 579v1M460.5 582v1M461.5 583v1M462.5 584v1M466.5 587v1M467.5 587v1M468.5 588v1M472.5 592v1M473.5 593v1M474.5 594v1M478.5 597v1M479.5 597v1M480.5 598v1M484.5 602v1M485.5 603v1M486.5 604v1M490.5 607v1M491.5 607v1M492.5 608v1M496.5 610v1M497.5 611v1M498.5 611v1M502.5 613v1M503.5 614v1M504.5 614v1M508.5 616v1M509.5 616v1M510.5 617v1M514.5 618v1M515.5 619v1M516.5 619v1M520.5 620v1M521.5 620v1M522.5 621v1M526.5 622v1M527.5 623v1M528.5 623v1M532.5 624v1M533.5 625v1M534.5 625v1M538.5 627v1M539.5 628v1M540.5 628v1M544.5 629v1M545.5 630v1M546.5 630v1M550.5 633v1M551.5 633v1M552.5 634v1M556.5 637v1M557.5 638v1M558.5 639v1M562.5 642v1M563.5 642v1M564.5 643v1M568.5 645v1M569.5 645v1M570.5 646v1M574.5 646v1M575.5 646v1M576.5 646v1M580.5 645v1M581.5 645v1M582.5 644v1M586.5 642v1M587.5 642v1M588.5 641v1M592.5 639v1M593.5 638v1M594.5 638v1M598.5 637v1M599.5 637v1M600.5 637v1M604.5 637v1M605.5 638v1M606.5 638v1M610.5 640v1M611.5 641v1M612.5 641v1M616.5 644v1M617.5 645v1M618.5 646v1M622.5 650v1M623.5 650v1M624.5 651v1M628.5 655v1M629.5 655v1M630.5 656v1M634.5 657v1M635.5 657v1M636.5 657v1M640.5 656v1M641.5 655v1M642.5 655v1M646.5 652v1M647.5 651v1M648.5 650v1M652.5 646v1M653.5 645v1M654.5 644v1M658.5 639v2M659.5 638v1M662.5 634v1M663.5 633v1M664.5 632v1M667.5 628v1M668.5 627v1M669.5 626v1M673.5 623v1M674.5 622v1M675.5 622v1M679.5 619v1M680.5 619v1M681.5 618v1M685.5 617v1M686.5 616v1M687.5 616v1M691.5 616v1M692.5 616v1M693.5 616v1M697.5 617v1M698.5 617v1M699.5 617v1M703.5 618v1M704.5 618v1M705.5 618v1M709.5 619v1M710.5 619v1M711.5 619v1M715.5 619v1M716.5 619v1M717.5 619v1M721.5 618v1M722.5 617v1M723.5 617v1M727.5 616v1M728.5 616v1M729.5 615v1M733.5 613v1M734.5 613v1M735.5 612v1M739.5 610v1M740.5 610v1M741.5 609v1M745.5 608v1M746.5 607v1M747.5 607v1M751.5 608v1M752.5 608v1M753.5 608v1M757.5 610v1M758.5 611v1M759.5 611v1M763.5 614v1M764.5 615v1M765.5 616v1M769.5 619v1M770.5 620v2M774.5 625v1M775.5 626v1M776.5 627v1M780.5 631v1M781.5 632v1M782.5 633v1M786.5 635v1M787.5 636v1M788.5 636v1M792.5 637v1M793.5 637v1M794.5 637v1M798.5 637v1M799.5 637v1M800.5 637v1M804.5 636v1M805.5 635v1M806.5 635v1M810.5 632v1M811.5 632v1M812.5 631v1M816.5 629v1M817.5 628v1M818.5 628v1M822.5 626v1M823.5 625v1M824.5 625v1M828.5 623v1M829.5 622v1M830.5 622v1M834.5 620v1M835.5 619v1M836.5 619v1M840.5 617v1M841.5 616v1M842.5 616v1M846.5 613v1M847.5 613v1M848.5 612v1M852.5 610v1M853.5 609v1M854.5 608v1M858.5 605v1M859.5 605v1M860.5 604v1M864.5 602v1M865.5 601v1M866.5 601v1M870.5 599v1M871.5 598v1M872.5 598v1M876.5 596v1M877.5 596v1M878.5 595v1M882.5 594v1M883.5 594v1M884.5 594v1M888.5 593v1M889.5 593v1M890.5 593v1M894.5 592v1M895.5 592v1M896.5 592v1M900.5 591v1M901.5 591v1M902.5 590v1M906.5 589v1M907.5 589v1M908.5 589v1M912.5 589v1M913.5 589v1M914.5 589v1M918.5 590v1M919.5 590v1M920.5 590v1M924.5 591v1M925.5 591v1M926.5 591v1M930.5 592v1M931.5 592v1M932.5 592v1M936.5 593v1M937.5 593v1M938.5 594v1M942.5 595v1M943.5 595v1M944.5 595v1M948.5 596v1M949.5 596v1M950.5 596v1M954.5 596v1M955.5 596v1M956.5 596v1M960.5 596v1M961.5 596v1M962.5 595v1M966.5 595v1M967.5 595v1M968.5 595v1M972.5 595v1M973.5 595v1M974.5 595v1M978.5 595v1M979.5 595v1M980.5 595v1M984.5 595v1M985.5 595v1M986.5 595v1M990.5 596v1M991.5 596v1M992.5 596v1M996.5 596v1M997.5 596v1M998.5 596v1M1002.5 597v1M1003.5 597v1M1004.5 597v1M1008.5 598v1M1009.5 599v1M1010.5 599v1M1014.5 601v1M1015.5 602v1M1016.5 602v1M1020.5 604v1M1021.5 605v1M1022.5 605v1M1026.5 608v1M1027.5 608v1M1028.5 609v1M1032.5 611v1M1033.5 611v1M1034.5 612v1M1038.5 613v1M1039.5 613v1M1040.5 613v1M1044.5 613v1M1045.5 613v1M1046.5 613v1M1050.5 612v1M1051.5 612v1M1052.5 612v1M1056.5 612v1M1057.5 612v1M1058.5 613v1M1062.5 613v1M1063.5 613v1M1064.5 613v1M1068.5 613v1M1069.5 613v1M1070.5 614v1M1074.5 614v1M1075.5 614v1M1076.5 614v1M1080.5 614v1M1081.5 614v1M1082.5 614v1M1086.5 613v1M1087.5 613v1M1088.5 613v1M1092.5 611v1M1093.5 611v1M1094.5 610v1M1098.5 609v1M1099.5 609v1M1100.5 609v1M1104.5 608v1M1105.5 608v1M1106.5 608v1M1110.5 608v1M1111.5 608v1M1112.5 608v1M1116.5 609v1M1117.5 609v1M1118.5 610v1M1122.5 611v1M1123.5 611v1M1124.5 611v1M1128.5 611v1" stroke="#ff0000" stroke-width="1" fill="none" shape-rendering="crispEdges"/>
<text x="8" y="575.5" font-size="9.6" fill="#000" textLength="154.00" lengthAdjust="spacingAndGlyphs" stroke="#000" stroke-width="0.12" xml:space="preserve">MACD(12,26,9) -0.000006 -0.000163</text>
<rect x="1420" y="565" width="2" height="1" fill="#000"/>
<rect x="1420" y="610" width="2" height="1" fill="#000"/>
<rect x="1420" y="666" width="2" height="1" fill="#000"/>
<text x="1423.5" y="574" font-size="9.6" fill="#000" textLength="32.50" lengthAdjust="spacingAndGlyphs" stroke="#000" stroke-width="0.12" xml:space="preserve">0.00613</text>
<text x="1423.5" y="614" font-size="9.6" fill="#000" textLength="16.50" lengthAdjust="spacingAndGlyphs" stroke="#000" stroke-width="0.12" xml:space="preserve">0.00</text>
<text x="1423.5" y="664" font-size="9.6" fill="#000" textLength="41.00" lengthAdjust="spacingAndGlyphs" stroke="#000" stroke-width="0.12" xml:space="preserve">-0.007612</text>
<g shape-rendering="crispEdges">
<line x1="4" x2="1419" y1="709.5" y2="709.5" stroke="#c0c0c0" stroke-width="1" stroke-dasharray="3 3"/>
<line x1="4" x2="1419" y1="760.5" y2="760.5" stroke="#c0c0c0" stroke-width="1" stroke-dasharray="3 3"/>
</g>
<path clip-path="url(#c3)" d="M4.5 745v1M5.5 746v1M6.5 747v1M7.5 747v1M8.5 748v1M9.5 749v1M10.5 750v1M11.5 750v1M12.5 751v1M13.5 750v1M14.5 750v1M15.5 749v1M16.5 748v2M17.5 745v3M18.5 741v4M19.5 738v3M20.5 736v2M21.5 737v1M22.5 738v1M23.5 738v1M24.5 739v1M25.5 740v1M26.5 740v1M27.5 741v1M28.5 741v1M29.5 741v1M30.5 741v1M31.5 741v1M32.5 741v2M33.5 743v2M34.5 745v2M35.5 747v2M36.5 749v2M37.5 749v1M38.5 749v1M39.5 748v1M40.5 748v1M41.5 749v2M42.5 751v2M43.5 753v2M44.5 754v3M45.5 750v4M46.5 745v5M47.5 741v4M48.5 738v3M49.5 738v1M50.5 738v1M51.5 738v1M52.5 738v1M53.5 738v1M54.5 738v1M55.5 738v1M56.5 738v1M57.5 739v1M58.5 740v1M59.5 741v1M60.5 741v2M61.5 739v2M62.5 737v2M63.5 735v2M64.5 733v2M65.5 732v1M66.5 731v1M67.5 730v1M68.5 729v1M69.5 728v1M70.5 726v2M71.5 725v1M72.5 724v1M73.5 724v1M74.5 723v1M75.5 723v1M76.5 723v1M77.5 723v1M78.5 723v1M79.5 723v1M80.5 723v1M81.5 722v1M82.5 721v1M83.5 721v1M84.5 720v1M85.5 720v1M86.5 721v1M87.5 721v1M88.5 721v1M89.5 722v1M90.5 723v2M91.5 725v1M92.5 726v1M93.5 725v1M94.5 725v1M95.5 724v1M96.5 724v1M97.5 725v2M98.5 727v1M99.5 728v2M100.5 730v1M101.5 730v1M102.5 730v1M103.5 730v1M104.5 730v1M105.5 731v1M106.5 731v1M107.5 732v1M108.5 732v1M109.5 731v1M110.5 729v2M111.5 728v1M112.5 727v1M113.5 728v1M114.5 728v1M115.5 729v1M116.5 729v1M117.5 729v1M118.5 728v1M119.5 728v1M120.5 728v1M121.5 727v1M122.5 727v1M123.5 726v1M124.5 726v1M125.5 726v1M126.5 725v1M127.5 725v1M128.5 725v1M129.5 724v1M130.5 723v1M131.5 722v1M132.5 721v1M133.5 720v1M134.5 719v1M135.5 718v1M136.5 717v1M137.5 716v1M138.5 715v1M139.5 714v1M140.5 713v1M141.5 713v1M142.5 713v1M143.5 713v1M144.5 713v1M145.5 714v2M146.5 716v2M147.5 718v2M148.5 720v2M149.5 721v1M150.5 722v1M151.5 722v1M152.5 722v1M153.5 720v2M154.5 718v2M155.5 716v2M156.5 714v2M157.5 713v1M158.5 712v1M159.5 712v1M160.5 711v1M161.5 710v1M162.5 709v1M163.5 708v1M164.5 707v2M165.5 709v3M166.5 712v3M167.5 715v3M168.5 718v2M169.5 719v1M170.5 719v1M171.5 719v1M172.5 719v1M173.5 719v1M174.5 719v1M175.5 719v1M176.5 719v1M177.5 719v1M178.5 720v1M179.5 720v1M180.5 720v2M181.5 722v2M182.5 724v3M183.5 727v2M184.5 729v2M185.5 731v1M186.5 731v1M187.5 732v1M188.5 732v1M189.5 731v1M190.5 731v1M191.5 730v1M192.5 730v1M193.5 731v1M194.5 732v1M195.5 732v1M196.5 733v1M197.5 733v1M198.5 733v1M199.5 733v1M200.5 733v1M201.5 733v1M202.5 733v1M203.5 733v1M204.5 733v1M205.5 733v1M206.5 734v1M207.5 734v1M208.5 734v1M209.5 733v1M210.5 733v1M211.5 732v1M212.5 732v2M213.5 734v2M214.5 736v3M215.5 739v2M216.5 741v2M217.5 740v2M218.5 738v2M219.5 736v2M220.5 735v1M221.5 736v1M222.5 736v1M223.5 737v1M224.5 737v1M225.5 737v1M226.5 736v1M227.5 736v1M228.5 735v2M229.5 731v4M230.5 727v4M231.5 723v4M232.5 721v2M233.5 721v1M234.5 722v1M235.5 722v1M236.5 721v2M237.5 718v3M238.5 715v3M239.5 712v3M240.5 710v2M241.5 712v3M242.5 715v2M243.5 717v3M244.5 720v2M245.5 720v1M246.5 720v1M247.5 719v1M248.5 719v1M249.5 718v1M250.5 717v1M251.5 717v1M252.5 716v1M253.5 717v2M254.5 719v2M255.5 721v2M256.5 723v3M257.5 726v2M258.5 728v2M259.5 730v2M260.5 732v2M261.5 733v1M262.5 732v1M263.5 732v1M264.5 732v1M265.5 733v1M266.5 734v1M267.5 734v1M268.5 735v1M269.5 735v1M270.5 735v1M271.5 735v1M272.5 735v1M273.5 736v1M274.5 737v1M275.5 737v1M276.5 738v1M277.5 739v2M278.5 741v1M279.5 742v2M280.5 744v2M281.5 746v3M282.5 749v4M283.5 753v3M284.5 756v2M285.5 756v1M286.5 755v1M287.5 755v1M288.5 754v1M289.5 752v2M290.5 751v1M291.5 749v2M292.5 748v1M293.5 748v1M294.5 748v1M295.5 748v1M296.5 748v1M297.5 749v1M298.5 750v1M299.5 750v1M300.5 751v1M301.5 750v1M302.5 749v1M303.5 748v1M304.5 747v1M305.5 746v1M306.5 745v1M307.5 745v1M308.5 744v1M309.5 744v1M310.5 744v1M311.5 744v1M312.5 744v1M313.5 743v1M314.5 742v1M315.5 742v1M316.5 741v1M317.5 741v1M318.5 742v1M319.5 742v1M320.5 741v2M321.5 739v2M322.5 736v3M323.5 734v2M324.5 732v2M325.5 733v1M326.5 734v1M327.5 734v1M328.5 735v1M329.5 736v1M330.5 736v1M331.5 737v1M332.5 737v1M333.5 735v2M334.5 733v2M335.5 731v2M336.5 730v1M337.5 730v1M338.5 730v1M339.5 730v1M340.5 730v1M341.5 730v1M342.5 729v1M343.5 729v1M344.5 729v1M345.5 730v1M346.5 731v1M347.5 731v1M348.5 732v1M349.5 732v1M350.5 731v1M351.5 731v1M352.5 731v1M353.5 729v2M354.5 727v2M355.5 725v2M356.5 724v1M357.5 723v1M358.5 723v1M359.5 722v1M360.5 722v1M361.5 722v1M362.5 722v1M363.5 722v1M364.5 722v1M365.5 723v1M366.5 723v1M367.5 724v1M368.5 724v1M369.5 723v1M370.5 722v1M371.5 721v1M372.5 719v2M373.5 717v2M374.5 715v2M375.5 713v2M376.5 711v2M377.5 709v2M378.5 708v1M379.5 706v2M380.5 705v1M381.5 703v2M382.5 702v1M383.5 700v2M384.5 699v1M385.5 700v1M386.5 701v1M387.5 702v1M388.5 703v1M389.5 703v1M390.5 702v1M391.5 702v1M392.5 702v1M393.5 700v2M394.5 699v1M395.5 697v2M396.5 696v1M397.5 696v1M398.5 696v1M399.5 696v1M400.5 696v1M401.5 696v1M402.5 697v1M403.5 697v1M404.5 697v1M405.5 698v1M406.5 699v2M407.5 701v1M408.5 702v1M409.5 702v1M410.5 701v1M411.5 701v1M412.5 701v1M413.5 701v1M414.5 701v1M415.5 701v1M416.5 701v1M417.5 702v1M418.5 702v1M419.5 703v1M420.5 703v2M421.5 705v2M422.5 707v2M423.5 709v2M424.5 711v2M425.5 711v1M426.5 710v1M427.5 709v1M428.5 708v1M429.5 709v2M430.5 711v2M431.5 713v2M432.5 715v2M433.5 717v1M434.5 718v1M435.5 719v1M436.5 720v1M437.5 719v1M438.5 719v1M439.5 718v1M440.5 718v1M441.5 717v1M442.5 715v2M443.5 714v1M444.5 713v1M445.5 712v1M446.5 712v1M447.5 711v1M448.5 711v3M449.5 714v5M450.5 719v4M451.5 723v5M452.5 728v3M453.5 731v2M454.5 733v2M455.5 735v2M456.5 737v2M457.5 739v1M458.5 740v1M459.5 741v1M460.5 742v2M461.5 744v2M462.5 746v3M463.5 749v2M464.5 751v2M465.5 749v2M466.5 747v2M467.5 745v2M468.5 743v2M469.5 743v1M470.5 744v1M471.5 744v1M472.5 744v1M473.5 743v1M474.5 741v2M475.5 740v1M476.5 739v1M477.5 738v1M478.5 738v1M479.5 737v1M480.5 737v1M481.5 737v1M482.5 737v1M483.5 737v1M484.5 737v1M485.5 738v2M486.5 740v1M487.5 741v2M488.5 743v1M489.5 741v2M490.5 739v2M491.5 737v2M492.5 736v1M493.5 737v1M494.5 738v2M495.5 740v1M496.5 741v2M497.5 743v3M498.5 746v2M499.5 748v3M500.5 751v2M501.5 753v1M502.5 753v1M503.5 754v1M504.5 754v1M505.5 753v1M506.5 753v1M507.5 752v1M508.5 752v1M509.5 751v1M510.5 749v2M511.5 748v1M512.5 747v1M513.5 745v2M514.5 743v2M515.5 741v2M516.5 739v2M517.5 738v1M518.5 737v1M519.5 737v1M520.5 736v1M521.5 737v1M522.5 737v1M523.5 738v1M524.5 738v2M525.5 740v3M526.5 743v4M527.5 747v3M528.5 750v2M529.5 752v1M530.5 752v1M531.5 753v1M532.5 753v1M533.5 754v2M534.5 756v2M535.5 758v2M536.5 760v2M537.5 761v1M538.5 761v1M539.5 761v1M540.5 761v1M541.5 760v1M542.5 759v1M543.5 758v1M544.5 757v1M545.5 758v1M546.5 759v1M547.5 759v1M548.5 760v1M549.5 761v1M550.5 762v2M551.5 764v1M552.5 764v2M553.5 762v2M554.5 759v3M555.5 757v2M556.5 755v2M557.5 756v1M558.5 756v1M559.5 757v1M560.5 757v1M561.5 755v2M562.5 753v2M563.5 751v2M564.5 749v2M565.5 748v1M566.5 746v2M567.5 745v1M568.5 744v1M569.5 745v1M570.5 745v1M571.5 746v1M572.5 745v2M573.5 742v3M574.5 740v2M575.5 737v3M576.5 735v2M577.5 735v1M578.5 735v1M579.5 735v1M580.5 735v1M581.5 735v1M582.5 736v1M583.5 736v1M584.5 736v1M585.5 735v1M586.5 734v1M587.5 733v1M588.5 732v2M589.5 734v3M590.5 737v4M591.5 741v3M592.5 744v3M593.5 747v3M594.5 750v4M595.5 754v3M596.5 757v2M597.5 759v1M598.5 760v1M599.5 761v1M600.5 762v1M601.5 762v1M602.5 763v1M603.5 763v1M604.5 763v1M605.5 764v1M606.5 764v1M607.5 765v1M608.5 765v1M609.5 764v1M610.5 762v2M611.5 761v1M612.5 760v1M613.5 758v2M614.5 757v1M615.5 755v2M616.5 754v1M617.5 754v1M618.5 755v1M619.5 755v1M620.5 755v1M621.5 755v1M622.5 756v1M623.5 756v1M624.5 756v1M625.5 754v2M626.5 752v2M627.5 750v2M628.5 747v3M629.5 744v3M630.5 740v4M631.5 737v3M632.5 735v2M633.5 736v1M634.5 737v1M635.5 737v1M636.5 738v1M637.5 738v1M638.5 738v1M639.5 738v1M640.5 738v1M641.5 738v1M642.5 739v1M643.5 739v1M644.5 738v2M645.5 735v3M646.5 733v2M647.5 730v3M648.5 728v2M649.5 728v1M650.5 729v1M651.5 729v1M652.5 729v1M653.5 728v1M654.5 727v1M655.5 726v1M656.5 725v1M657.5 726v1M658.5 726v1M659.5 727v1M660.5 727v2M661.5 729v2M662.5 731v2M663.5 733v2M664.5 735v2M665.5 735v1M666.5 734v1M667.5 733v1M668.5 732v2M669.5 734v2M670.5 736v2M671.5 738v2M672.5 740v2M673.5 741v1M674.5 741v1M675.5 741v1M676.5 741v1M677.5 741v1M678.5 741v1M679.5 741v1M680.5 741v1M681.5 739v2M682.5 737v2M683.5 735v2M684.5 734v1M685.5 735v1M686.5 736v1M687.5 736v1M688.5 737v1M689.5 738v2M690.5 740v1M691.5 741v2M692.5 743v1M693.5 743v1M694.5 743v1M695.5 743v1M696.5 743v1M697.5 743v1M698.5 742v1M699.5 742v1M700.5 742v1M701.5 742v1M702.5 743v1M703.5 743v1M704.5 743v1M705.5 741v2M706.5 740v1M707.5 738v2M708.5 737v1M709.5 737v1M710.5 738v1M711.5 738v1M712.5 737v2M713.5 734v3M714.5 731v3M715.5 728v3M716.5 726v2M717.5 725v1M718.5 723v2M719.5 722v1M720.5 721v1M721.5 722v1M722.5 722v1M723.5 723v1M724.5 723v1M725.5 724v1M726.5 725v1M727.5 726v1M728.5 727v1M729.5 728v1M730.5 729v1M731.5 730v1M732.5 731v1M733.5 729v2M734.5 727v2M735.5 725v2M736.5 724v1M737.5 725v2M738.5 727v2M739.5 729v2M740.5 731v3M741.5 734v3M742.5 737v3M743.5 740v3M744.5 743v2M745.5 744v1M746.5 743v1M747.5 743v1M748.5 743v2M749.5 745v4M750.5 749v3M751.5 752v4M752.5 756v2M753.5 754v2M754.5 752v2M755.5 750v2M756.5 748v2M757.5 748v1M758.5 749v1M759.5 749v1M760.5 749v1M761.5 749v1M762.5 750v1M763.5 750v1M764.5 750v1M765.5 751v1M766.5 751v1M767.5 752v1M768.5 752v1M769.5 752v1M770.5 753v1M771.5 753v1M772.5 753v1M773.5 754v1M774.5 754v1M775.5 755v1M776.5 754v2M777.5 751v3M778.5 747v4M779.5 744v3M780.5 742v2M781.5 743v1M782.5 744v1M783.5 745v1M784.5 746v1M785.5 744v2M786.5 743v1M787.5 741v2M788.5 740v1M789.5 739v1M790.5 739v1M791.5 738v1M792.5 738v1M793.5 737v1M794.5 737v1M795.5 736v1M796.5 736v1M797.5 735v1M798.5 734v1M799.5 733v1M800.5 732v1M801.5 733v2M802.5 735v1M803.5 736v2M804.5 738v1M805.5 736v2M806.5 734v2M807.5 732v2M808.5 731v1M809.5 730v1M810.5 730v1M811.5 729v1M812.5 729v2M813.5 731v4M814.5 735v3M815.5 738v4M816.5 742v2M817.5 743v1M818.5 744v1M819.5 744v1M820.5 743v2M821.5 741v2M822.5 739v2M823.5 737v2M824.5 735v2M825.5 734v1M826.5 733v1M827.5 733v1M828.5 732v1M829.5 732v1M830.5 732v1M831.5 732v1M832.5 732v1M833.5 730v2M834.5 729v1M835.5 727v2M836.5 726v1M837.5 724v2M838.5 723v1M839.5 721v2M840.5 720v1M841.5 721v1M842.5 721v1M843.5 722v1M844.5 722v1M845.5 722v1M846.5 721v1M847.5 721v1M848.5 721v1M849.5 722v2M850.5 724v2M851.5 726v2M852.5 728v2M853.5 730v2M854.5 732v2M855.5 734v2M856.5 736v2M857.5 735v2M858.5 733v2M859.5 731v2M860.5 729v2M861.5 728v1M862.5 728v1M863.5 727v1M864.5 727v1M865.5 727v1M866.5 727v1M867.5 727v1M868.5 727v1M869.5 726v1M870.5 724v2M871.5 723v1M872.5 722v1M873.5 722v1M874.5 723v1M875.5 723v1M876.5 723v1M877.5 722v1M878.5 722v1M879.5 721v1M880.5 721v1M881.5 722v1M882.5 723v2M883.5 725v1M884.5 726v1M885.5 726v1M886.5 726v1M887.5 726v1M888.5 726v1M889.5 727v2M890.5 729v2M891.5 731v2M892.5 732v2M893.5 730v2M894.5 728v2M895.5 726v2M896.5 724v2M897.5 724v1M898.5 725v1M899.5 725v1M900.5 725v1M901.5 723v2M902.5 722v1M903.5 720v2M904.5 719v1M905.5 720v2M906.5 722v2M907.5 724v2M908.5 726v2M909.5 728v1M910.5 728v1M911.5 729v1M912.5 729v1M913.5 729v1M914.5 729v1M915.5 729v1M916.5 729v1M917.5 730v1M918.5 731v1M919.5 732v1M920.5 733v1M921.5 734v2M922.5 736v1M923.5 737v2M924.5 738v2M925.5 736v2M926.5 733v3M927.5 731v2M928.5 729v2M929.5 728v1M930.5 728v1M931.5 727v1M932.5 727v1M933.5 728v1M934.5 729v2M935.5 731v1M936.5 732v1M937.5 732v1M938.5 732v1M939.5 732v1M940.5 731v2M941.5 729v2M942.5 726v3M943.5 724v2M944.5 722v2M945.5 723v2M946.5 725v2M947.5 727v2M948.5 729v2M949.5 729v1M950.5 727v2M951.5 726v1M952.5 725v1M953.5 724v1M954.5 724v1M955.5 723v1M956.5 723v1M957.5 724v2M958.5 726v2M959.5 728v2M960.5 730v1M961.5 730v1M962.5 730v1M963.5 730v1M964.5 730v1M965.5 730v1M966.5 729v1M967.5 729v1M968.5 729v1M969.5 730v1M970.5 731v1M971.5 732v1M972.5 733v1M973.5 733v1M974.5 732v1M975.5 732v1M976.5 732v1M977.5 731v1M978.5 729v2M979.5 728v1M980.5 727v1M981.5 726v1M982.5 726v1M983.5 725v1M984.5 725v1M985.5 724v1M986.5 724v1M987.5 723v1M988.5 723v1M989.5 724v1M990.5 724v1M991.5 725v1M992.5 725v1M993.5 725v1M994.5 724v1M995.5 724v1M996.5 724v2M997.5 726v2M998.5 728v2M999.5 730v2M1000.5 732v3M1001.5 735v3M1002.5 738v3M1003.5 741v3M1004.5 744v2M1005.5 746v1M1006.5 747v1M1007.5 748v1M1008.5 749v1M1009.5 749v1M1010.5 749v1M1011.5 749v1M1012.5 749v1M1013.5 748v1M1014.5 748v1M1015.5 747v1M1016.5 747v1M1017.5 745v2M1018.5 743v2M1019.5 741v2M1020.5 739v2M1021.5 738v1M1022.5 738v1M1023.5 737v1M1024.5 737v1M1025.5 736v1M1026.5 735v1M1027.5 734v1M1028.5 733v1M1029.5 732v1M1030.5 730v2M1031.5 729v1M1032.5 728v1M1033.5 728v1M1034.5 729v1M1035.5 729v1M1036.5 729v1M1037.5 729v1M1038.5 728v1M1039.5 728v1M1040.5 728v1M1041.5 729v1M1042.5 729v1M1043.5 730v1M1044.5 730v2M1045.5 732v3M1046.5 735v3M1047.5 738v3M1048.5 741v2M1049.5 743v1M1050.5 744v1M1051.5 745v1M1052.5 746v1M1053.5 746v1M1054.5 747v1M1055.5 747v1M1056.5 747v1M1057.5 747v1M1058.5 747v1M1059.5 747v1M1060.5 747v1M1061.5 745v2M1062.5 743v2M1063.5 741v2M1064.5 739v2M1065.5 737v2M1066.5 735v2M1067.5 733v2M1068.5 731v2M1069.5 731v1M1070.5 731v1M1071.5 731v1M1072.5 731v1M1073.5 730v1M1074.5 728v2M1075.5 727v1M1076.5 726v1M1077.5 725v1M1078.5 723v2M1079.5 722v1M1080.5 721v1M1081.5 721v1M1082.5 721v1M1083.5 721v1M1084.5 721v2M1085.5 723v3M1086.5 726v2M1087.5 728v3M1088.5 731v2M1089.5 732v1M1090.5 733v1M1091.5 733v1M1092.5 733v1M1093.5 734v2M1094.5 736v2M1095.5 738v2M1096.5 740v1M1097.5 741v1M1098.5 741v1M1099.5 742v1M1100.5 742v1M1101.5 741v1M1102.5 740v1M1103.5 739v1M1104.5 738v1M1105.5 739v1M1106.5 740v1M1107.5 740v1M1108.5 741v1M1109.5 741v1M1110.5 740v1M1111.5 740v1M1112.5 740v1M1113.5 739v1M1114.5 738v1M1115.5 738v1M1116.5 737v1M1117.5 738v1M1118.5 738v1M1119.5 739v1M1120.5 738v2M1121.5 736v2M1122.5 734v2M1123.5 732v2M1124.5 730v2M1125.5 729v1M1126.5 729v1M1127.5 728v1M1128.5 728v1" stroke="#1e90ff" stroke-width="1" fill="none" shape-rendering="crispEdges"/>
<text x="8" y="682" font-size="9.6" fill="#000" textLength="67.50" lengthAdjust="spacingAndGlyphs" stroke="#000" stroke-width="0.12" xml:space="preserve">RSI(14) 55.2779</text>
<rect x="1420" y="671" width="2" height="1" fill="#000"/>
<rect x="1420" y="709" width="2" height="1" fill="#000"/>
<rect x="1420" y="760" width="2" height="1" fill="#000"/>
<text x="1423.5" y="680" font-size="9.6" fill="#000" textLength="14.50" lengthAdjust="spacingAndGlyphs" stroke="#000" stroke-width="0.12" xml:space="preserve">100</text>
<text x="1422.5" y="713" font-size="9.6" fill="#000" textLength="9.80" lengthAdjust="spacingAndGlyphs" stroke="#000" stroke-width="0.12" xml:space="preserve">70</text>
<text x="1422.5" y="764" font-size="9.6" fill="#000" textLength="9.80" lengthAdjust="spacingAndGlyphs" stroke="#000" stroke-width="0.12" xml:space="preserve">30</text>
<text x="1423.5" y="796" font-size="9.6" fill="#000" textLength="4.80" lengthAdjust="spacingAndGlyphs" stroke="#000" stroke-width="0.12" xml:space="preserve">0</text>
<rect x="4" y="800" width="1" height="3" fill="#000"/>
<text x="3" y="812.3" font-size="9.6" fill="#000" textLength="53.34" lengthAdjust="spacingAndGlyphs" stroke="#000" stroke-width="0.12" xml:space="preserve">28 Dec 2018</text>
<rect x="68" y="800" width="1" height="3" fill="#000"/>
<text x="67" y="812.3" font-size="9.6" fill="#000" textLength="51.77" lengthAdjust="spacingAndGlyphs" stroke="#000" stroke-width="0.12" xml:space="preserve">16 Jan 2019</text>
<rect x="132" y="800" width="1" height="3" fill="#000"/>
<text x="131" y="812.3" font-size="9.6" fill="#000" textLength="47.59" lengthAdjust="spacingAndGlyphs" stroke="#000" stroke-width="0.12" xml:space="preserve">4 Feb 2019</text>
<rect x="196" y="800" width="1" height="3" fill="#000"/>
<text x="195" y="812.3" font-size="9.6" fill="#000" textLength="52.82" lengthAdjust="spacingAndGlyphs" stroke="#000" stroke-width="0.12" xml:space="preserve">22 Feb 2019</text>
<rect x="260" y="800" width="1" height="3" fill="#000"/>
<text x="259" y="812.3" font-size="9.6" fill="#000" textLength="52.81" lengthAdjust="spacingAndGlyphs" stroke="#000" stroke-width="0.12" xml:space="preserve">13 Mar 2019</text>
<rect x="324" y="800" width="1" height="3" fill="#000"/>
<text x="323" y="812.3" font-size="9.6" fill="#000" textLength="45.50" lengthAdjust="spacingAndGlyphs" stroke="#000" stroke-width="0.12" xml:space="preserve">1 Apr 2019</text>
<rect x="388" y="800" width="1" height="3" fill="#000"/>
<text x="387" y="812.3" font-size="9.6" fill="#000" textLength="50.73" lengthAdjust="spacingAndGlyphs" stroke="#000" stroke-width="0.12" xml:space="preserve">21 Apr 2019</text>
<rect x="452" y="800" width="1" height="3" fill="#000"/>
<text x="451" y="812.3" font-size="9.6" fill="#000" textLength="49.15" lengthAdjust="spacingAndGlyphs" stroke="#000" stroke-width="0.12" xml:space="preserve">9 May 2019</text>
<rect x="516" y="800" width="1" height="3" fill="#000"/>
<text x="515" y="812.3" font-size="9.6" fill="#000" textLength="54.38" lengthAdjust="spacingAndGlyphs" stroke="#000" stroke-width="0.12" xml:space="preserve">28 May 2019</text>
<rect x="580" y="800" width="1" height="3" fill="#000"/>
<text x="579" y="812.3" font-size="9.6" fill="#000" textLength="51.77" lengthAdjust="spacingAndGlyphs" stroke="#000" stroke-width="0.12" xml:space="preserve">16 Jun 2019</text>
<rect x="644" y="800" width="1" height="3" fill="#000"/>
<text x="643" y="812.3" font-size="9.6" fill="#000" textLength="43.40" lengthAdjust="spacingAndGlyphs" stroke="#000" stroke-width="0.12" xml:space="preserve">4 Jul 2019</text>
<rect x="708" y="800" width="1" height="3" fill="#000"/>
<text x="707" y="812.3" font-size="9.6" fill="#000" textLength="48.63" lengthAdjust="spacingAndGlyphs" stroke="#000" stroke-width="0.12" xml:space="preserve">23 Jul 2019</text>
<rect x="772" y="800" width="1" height="3" fill="#000"/>
<text x="771" y="812.3" font-size="9.6" fill="#000" textLength="52.13" lengthAdjust="spacingAndGlyphs" stroke="#000" stroke-width="0.12" xml:space="preserve">11 Aug 2019</text>
<rect x="836" y="800" width="1" height="3" fill="#000"/>
<text x="835" y="812.3" font-size="9.6" fill="#000" textLength="52.83" lengthAdjust="spacingAndGlyphs" stroke="#000" stroke-width="0.12" xml:space="preserve">29 Aug 2019</text>
<rect x="900" y="800" width="1" height="3" fill="#000"/>
<text x="899" y="812.3" font-size="9.6" fill="#000" textLength="53.35" lengthAdjust="spacingAndGlyphs" stroke="#000" stroke-width="0.12" xml:space="preserve">17 Sep 2019</text>
<rect x="964" y="800" width="1" height="3" fill="#000"/>
<text x="963" y="812.3" font-size="9.6" fill="#000" textLength="46.01" lengthAdjust="spacingAndGlyphs" stroke="#000" stroke-width="0.12" xml:space="preserve">6 Oct 2019</text>
<rect x="1028" y="800" width="1" height="3" fill="#000"/>
<text x="1027" y="812.3" font-size="9.6" fill="#000" textLength="51.24" lengthAdjust="spacingAndGlyphs" stroke="#000" stroke-width="0.12" xml:space="preserve">24 Oct 2019</text>
<rect x="1092" y="800" width="1" height="3" fill="#000"/>
<text x="1091" y="812.3" font-size="9.6" fill="#000" textLength="53.34" lengthAdjust="spacingAndGlyphs" stroke="#000" stroke-width="0.12" xml:space="preserve">12 Nov 2019</text>
<rect x="0" y="820" width="1464" height="1" fill="#e3e3e3"/>
<rect x="0" y="821" width="1464" height="1" fill="#f2f2f2"/>
<rect x="0" y="823" width="1464" height="1" fill="#ffffff"/>
<rect x="0" y="824" width="1464" height="17" fill="#f0f0f0"/>
<rect x="0" y="841" width="1464" height="1" fill="#f8f8f8"/>
<rect x="0" y="842" width="1464" height="1" fill="#ffffff"/>
<rect x="0" y="843" width="1464" height="3" fill="#f0f0f0"/>
<rect x="0" y="822" width="1464" height="1" fill="#000"/>
<rect x="0" y="823" width="1" height="18" fill="#555"/>
<rect x="1" y="823" width="1" height="18" fill="#fff"/>
<rect x="221" y="822" width="108" height="19" fill="#fff"/>
<rect x="221" y="822" width="1" height="19" fill="#000"/>
<rect x="328" y="822" width="1" height="19" fill="#000"/>
<rect x="221" y="840" width="108" height="1" fill="#000"/>
<rect x="329" y="823" width="1" height="18" fill="#fff"/>
<text x="16.4" y="837" font-size="12.6" fill="#5c5c5c" textLength="84.40" lengthAdjust="spacingAndGlyphs" xml:space="preserve">EURUSD-,Daily</text>
<rect x="113" y="825" width="1" height="14" fill="#6a6a6a"/>
<text x="123" y="837" font-size="12.6" fill="#5c5c5c" textLength="86.00" lengthAdjust="spacingAndGlyphs" xml:space="preserve">AUDUSD-,Daily</text>
<text x="233.3" y="837" font-size="12.6" fill="#000" textLength="83.70" lengthAdjust="spacingAndGlyphs" xml:space="preserve">USDCHF-,Daily</text>
<text x="340" y="837" font-size="12.6" fill="#5c5c5c" textLength="86.00" lengthAdjust="spacingAndGlyphs" xml:space="preserve">USDCAD-,Daily</text>
<rect x="437" y="825" width="1" height="14" fill="#6a6a6a"/>
<text x="449" y="837" font-size="12.6" fill="#5c5c5c" textLength="88.50" lengthAdjust="spacingAndGlyphs" xml:space="preserve">USDCNH-,Daily</text>
<rect x="548" y="825" width="1" height="14" fill="#6a6a6a"/>
<text x="560" y="837" font-size="12.6" fill="#5c5c5c" textLength="96.50" lengthAdjust="spacingAndGlyphs" xml:space="preserve">EURCHF-,Weekly</text>
<rect x="668" y="825" width="1" height="14" fill="#6a6a6a"/>
<text x="680" y="837" font-size="12.6" fill="#5c5c5c" textLength="101.00" lengthAdjust="spacingAndGlyphs" xml:space="preserve">XAUUSD-,Weekly</text>
<rect x="793" y="825" width="1" height="14" fill="#6a6a6a"/>
<text x="804.5" y="837" font-size="12.6" fill="#5c5c5c" textLength="72.50" lengthAdjust="spacingAndGlyphs" xml:space="preserve">GBPUSD-,H1</text>
<rect x="888" y="825" width="1" height="14" fill="#6a6a6a"/>
<text x="900.5" y="837" font-size="12.6" fill="#5c5c5c" textLength="56.50" lengthAdjust="spacingAndGlyphs" xml:space="preserve">UKOil-,H1</text>
<rect x="968" y="825" width="1" height="14" fill="#6a6a6a"/>
<text x="980.5" y="837" font-size="12.6" fill="#5c5c5c" textLength="69.00" lengthAdjust="spacingAndGlyphs" xml:space="preserve">USDX-,Daily</text>
<rect x="1062" y="825" width="1" height="14" fill="#6a6a6a"/>
<text x="1071" y="837" font-size="12.6" fill="#5c5c5c" textLength="71.00" lengthAdjust="spacingAndGlyphs" xml:space="preserve">EURCHF-,H1</text>
<rect x="1153" y="825" width="1" height="14" fill="#6a6a6a"/>
<text x="1165" y="837" font-size="12.6" fill="#5c5c5c" textLength="68.00" lengthAdjust="spacingAndGlyphs" xml:space="preserve">USOil-,Daily</text>
<rect x="1245" y="825" width="1" height="14" fill="#6a6a6a"/>
<rect x="1435" y="831" width="1" height="1" fill="#8c8c8c"/>
<rect x="1457" y="831" width="1" height="1" fill="#8c8c8c"/>
<rect x="1436" y="830" width="1" height="3" fill="#8c8c8c"/>
<rect x="1456" y="830" width="1" height="3" fill="#8c8c8c"/>
<rect x="1437" y="829" width="1" height="5" fill="#8c8c8c"/>
<rect x="1455" y="829" width="1" height="5" fill="#8c8c8c"/>
<rect x="1438" y="828" width="1" height="7" fill="#8c8c8c"/>
<rect x="1454" y="828" width="1" height="7" fill="#8c8c8c"/></svg>
</body></html>
